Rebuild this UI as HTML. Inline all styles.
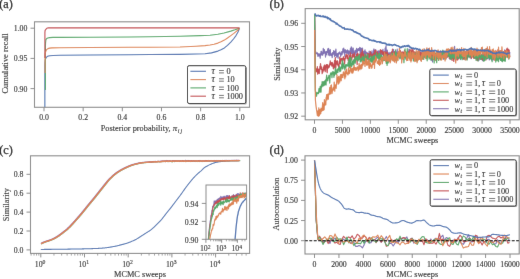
<!DOCTYPE html>
<html><head><meta charset="utf-8"><style>
html,body{margin:0;padding:0;background:#fff;width:520px;height:279px;overflow:hidden}
svg{display:block;font-family:"Liberation Serif",serif;will-change:transform}
text{stroke:#262626;stroke-width:0.12px}
.pl{font-size:12.2px;fill:#111;stroke:#111;stroke-width:0.25px}
</style></head><body>
<svg width="520" height="279" viewBox="0 0 520 279">
<defs><filter id="bl" x="0" y="0" width="520" height="279" filterUnits="userSpaceOnUse"><feConvolveMatrix order="3" kernelMatrix="0.00348 0.05206 0.00348 0.05206 0.77783 0.05206 0.00348 0.05206 0.00348" edgeMode="duplicate" preserveAlpha="false"/></filter></defs>
<g filter="url(#bl)">
<rect width="520" height="279" fill="#fff"/>
<g>
<text x="-0.8" y="8.4" class="pl">(a)</text>
<clipPath id="ca"><rect x="34.5" y="21.8" width="215.0" height="85.5"/></clipPath>
<g clip-path="url(#ca)">
<path d="M44.85,108.00 L44.85,66.00 L44.95,62.50 L45.20,60.20 L45.60,58.60 L46.30,57.40 L47.20,56.60 L48.40,56.00 L50.00,55.70 L53.00,55.45 L60.00,55.30 L90.00,55.00 L130.00,54.70 L150.00,54.50 L180.00,54.40 L196.00,54.00 L205.00,53.70 L211.50,52.90 L217.90,51.10 L221.00,49.80 L224.40,47.90 L227.50,45.40 L230.80,42.10 L233.50,39.00 L236.00,35.60 L238.00,32.00 L239.50,28.20" fill="none" stroke="#4C72B0" stroke-width="1.12" stroke-linejoin="round" stroke-linecap="butt" />
<path d="M45.45,90.00 L45.45,46.00 L45.55,43.00 L45.75,41.00 L45.90,39.60 L46.70,38.60 L47.80,38.00 L49.50,37.60 L53.00,37.40 L60.00,37.35 L90.00,37.20 L130.00,36.95 L150.00,36.80 L180.00,36.30 L200.00,35.60 L210.00,35.20 L217.90,34.30 L224.00,33.00 L230.80,31.10 L235.00,29.80 L239.50,28.20" fill="none" stroke="#55A868" stroke-width="1.12" stroke-linejoin="round" stroke-linecap="butt" />
<path d="M45.05,73.00 L45.05,56.00 L45.20,53.60 L45.60,51.90 L46.10,50.50 L46.90,49.40 L48.00,48.60 L49.60,48.10 L52.00,47.85 L60.00,47.70 L90.00,47.50 L130.00,47.30 L150.00,47.20 L180.00,47.05 L196.00,46.20 L205.00,45.60 L210.00,45.00 L214.00,44.20 L217.90,43.10 L221.00,41.80 L224.40,40.10 L227.50,38.00 L230.80,35.60 L233.50,33.60 L236.00,31.60 L238.00,30.00 L239.50,28.20" fill="none" stroke="#DD8452" stroke-width="1.12" stroke-linejoin="round" stroke-linecap="butt" />
<path d="M44.90,58.00 L44.90,32.50 L45.10,30.40 L45.90,29.30 L46.50,28.50 L47.40,28.05 L48.60,27.90 L239.50,27.90" fill="none" stroke="#C44E52" stroke-width="1.12" stroke-linejoin="round" stroke-linecap="butt" />
</g>
<rect x="34.5" y="21.8" width="215.00" height="85.50" fill="none" stroke="#8a8a8a" stroke-width="1.1"/>
<line x1="30.5" y1="28.20" x2="34.5" y2="28.20" stroke="#8a8a8a" stroke-width="1"/>
<text x="27.40" y="31.20" font-size="7.8" text-anchor="end" fill="#262626" >1.00</text>
<line x1="30.5" y1="58.40" x2="34.5" y2="58.40" stroke="#8a8a8a" stroke-width="1"/>
<text x="27.40" y="61.40" font-size="7.8" text-anchor="end" fill="#262626" >0.95</text>
<line x1="30.5" y1="88.60" x2="34.5" y2="88.60" stroke="#8a8a8a" stroke-width="1"/>
<text x="27.40" y="91.60" font-size="7.8" text-anchor="end" fill="#262626" >0.90</text>
<line x1="44.00" y1="107.3" x2="44.00" y2="111.3" stroke="#8a8a8a" stroke-width="1"/>
<text x="44.00" y="119.50" font-size="7.8" text-anchor="middle" fill="#262626" >0.0</text>
<line x1="83.16" y1="107.3" x2="83.16" y2="111.3" stroke="#8a8a8a" stroke-width="1"/>
<text x="83.16" y="119.50" font-size="7.8" text-anchor="middle" fill="#262626" >0.2</text>
<line x1="122.32" y1="107.3" x2="122.32" y2="111.3" stroke="#8a8a8a" stroke-width="1"/>
<text x="122.32" y="119.50" font-size="7.8" text-anchor="middle" fill="#262626" >0.4</text>
<line x1="161.48" y1="107.3" x2="161.48" y2="111.3" stroke="#8a8a8a" stroke-width="1"/>
<text x="161.48" y="119.50" font-size="7.8" text-anchor="middle" fill="#262626" >0.6</text>
<line x1="200.64" y1="107.3" x2="200.64" y2="111.3" stroke="#8a8a8a" stroke-width="1"/>
<text x="200.64" y="119.50" font-size="7.8" text-anchor="middle" fill="#262626" >0.8</text>
<line x1="239.80" y1="107.3" x2="239.80" y2="111.3" stroke="#8a8a8a" stroke-width="1"/>
<text x="239.80" y="119.50" font-size="7.8" text-anchor="middle" fill="#262626" >1.0</text>
<text x="141.9" y="131.1" font-size="8.3" text-anchor="middle" fill="#262626">Posterior probability, <tspan font-style="italic" font-size="8.8">π</tspan><tspan font-style="italic" font-size="6" dy="1.6" dx="0.6" letter-spacing="1">ij</tspan></text>
<text transform="translate(8.1,63.4) rotate(-90)" font-size="8.45" text-anchor="middle" fill="#262626">Cumulative recall</text>
<rect x="188.5" y="66.7" width="58.30000000000001" height="37.8" rx="1.6" fill="#777" opacity="0.65"/>
<rect x="187.5" y="65.7" width="58.30000000000001" height="37.8" rx="1.6" fill="#fff" stroke="#1a1a1a" stroke-width="1.0"/>
<line x1="190.4" y1="71.30" x2="206" y2="71.30" stroke="#4C72B0" stroke-width="1.1"/>
<text x="211.60" y="74.10" font-size="9.4" font-style="italic" fill="#262626">τ</text>
<path d="M219.00,70.50H223.90M219.00,72.90H223.90" stroke="#222" stroke-width="0.65" fill="none"/>
<text x="226.40" y="74.10" font-size="8.3" fill="#262626">0</text>
<line x1="190.4" y1="79.60" x2="206" y2="79.60" stroke="#DD8452" stroke-width="1.1"/>
<text x="211.60" y="82.40" font-size="9.4" font-style="italic" fill="#262626">τ</text>
<path d="M219.00,78.80H223.90M219.00,81.20H223.90" stroke="#222" stroke-width="0.65" fill="none"/>
<text x="226.40" y="82.40" font-size="8.3" fill="#262626">10</text>
<line x1="190.4" y1="87.90" x2="206" y2="87.90" stroke="#55A868" stroke-width="1.1"/>
<text x="211.60" y="90.70" font-size="9.4" font-style="italic" fill="#262626">τ</text>
<path d="M219.00,87.10H223.90M219.00,89.50H223.90" stroke="#222" stroke-width="0.65" fill="none"/>
<text x="226.40" y="90.70" font-size="8.3" fill="#262626">100</text>
<line x1="190.4" y1="96.20" x2="206" y2="96.20" stroke="#C44E52" stroke-width="1.1"/>
<text x="211.60" y="99.00" font-size="9.4" font-style="italic" fill="#262626">τ</text>
<path d="M219.00,95.40H223.90M219.00,97.80H223.90" stroke="#222" stroke-width="0.65" fill="none"/>
<text x="226.40" y="99.00" font-size="8.3" fill="#262626">1000</text>
</g>
<text x="269.6" y="8.2" class="pl">(b)</text>
<clipPath id="cb"><rect x="305.2" y="8.6" width="214.00000000000006" height="111.2"/></clipPath>
<g clip-path="url(#cb)">
<path d="M314.60,14.50 L315.30,50.00 L316.00,53.33 L316.28,53.66 L316.56,53.56 L316.84,52.94 L317.12,53.47 L317.40,52.88 L317.68,54.83 L317.96,56.46 L318.24,53.76 L318.52,53.86 L318.80,55.74 L319.08,55.84 L319.36,55.25 L319.64,53.88 L319.92,56.50 L320.20,58.26 L320.48,53.66 L320.76,54.58 L321.04,51.40 L321.32,52.57 L321.60,51.35 L321.88,55.21 L322.16,52.53 L322.44,55.20 L322.72,55.02 L323.00,53.83 L323.28,48.28 L323.56,52.53 L323.84,53.49 L324.12,52.84 L324.40,49.67 L324.68,52.23 L324.96,51.58 L325.24,52.83 L325.52,57.06 L325.80,51.89 L326.08,53.27 L326.36,54.86 L326.64,51.32 L326.92,52.50 L327.20,52.18 L327.48,52.34 L327.76,48.81 L328.04,52.06 L328.32,55.08 L328.60,48.37 L328.88,53.99 L329.16,52.16 L329.44,50.25 L329.72,55.71 L330.00,53.02 L330.28,49.48 L330.56,53.38 L330.84,55.14 L331.12,53.67 L331.40,55.34 L331.68,54.23 L331.96,55.84 L332.24,57.53 L332.52,52.49 L332.80,54.51 L333.08,52.75 L333.36,54.05 L333.64,50.53 L333.92,51.79 L334.20,53.70 L334.48,56.14 L334.76,56.57 L335.04,51.09 L335.32,52.58 L335.60,55.34 L335.88,49.15 L336.16,53.06 L336.44,53.98 L336.72,57.10 L337.00,56.43 L337.28,53.69 L337.56,53.57 L337.84,53.55 L338.12,58.24 L338.40,52.80 L338.68,52.77 L338.96,54.05 L339.24,53.27 L339.52,53.36 L339.80,51.84 L340.08,53.62 L340.36,52.94 L340.64,56.48 L340.92,54.98 L341.20,53.66 L341.48,54.83 L341.76,51.60 L342.04,54.71 L342.32,51.70 L342.60,52.88 L342.88,48.87 L343.16,52.88 L343.44,48.99 L343.72,48.14 L344.00,51.48 L344.28,49.86 L344.56,52.00 L344.84,56.37 L345.12,49.63 L345.40,49.95 L345.68,51.12 L345.96,52.27 L346.24,50.83 L346.52,51.06 L346.80,53.32 L347.08,53.29 L347.36,49.81 L347.64,52.62 L347.92,53.10 L348.20,50.78 L348.48,53.99 L348.76,50.76 L349.04,54.92 L349.32,53.05 L349.60,52.94 L349.88,50.81 L350.16,52.68 L350.44,48.42 L350.72,49.88 L351.00,52.61 L351.28,46.84 L351.56,53.74 L351.84,47.55 L352.12,53.45 L352.40,49.58 L352.68,53.66 L352.96,51.93 L353.24,48.18 L353.52,55.11 L353.80,56.74 L354.08,52.79 L354.36,52.11 L354.64,52.02 L354.92,50.53 L355.20,54.80 L355.48,50.86 L355.76,52.03 L356.04,49.95 L356.32,49.99 L356.60,48.38 L356.88,53.40 L357.16,49.68 L357.44,52.27 L357.72,50.34 L358.00,48.81 L358.28,49.05 L358.56,48.52 L358.84,50.39 L359.12,49.92 L359.40,50.20 L359.68,47.47 L359.96,49.21 L360.24,54.74 L360.52,49.00 L360.80,47.92 L361.08,51.93 L361.36,54.61 L361.64,48.63 L361.92,51.34 L362.20,50.85 L362.48,48.02 L362.76,53.74 L363.04,53.14 L363.32,53.67 L363.60,51.50 L363.88,54.20 L364.16,52.03 L364.44,53.44 L364.72,50.93 L365.00,49.86 L365.28,55.62 L365.56,51.40 L365.84,53.30 L366.12,53.13 L366.40,52.30 L366.68,52.47 L366.96,54.53 L367.24,52.75 L367.52,53.97 L367.80,54.59 L368.08,57.23 L368.36,56.03 L368.64,56.01 L368.92,53.25 L369.20,51.19 L369.48,56.64 L369.76,56.88 L370.04,54.00 L370.32,55.59 L370.60,55.90 L370.88,55.97 L371.16,56.02 L371.44,52.26 L371.72,56.74 L372.00,50.73 L372.28,55.09 L372.56,54.11 L372.84,55.25 L373.12,57.05 L373.40,56.21 L373.68,49.69 L373.96,48.96 L374.24,55.73 L374.52,52.32 L374.80,54.39 L375.08,56.55 L375.36,50.75 L375.64,49.59 L375.92,55.59 L376.20,54.35 L376.48,54.03 L376.76,54.53 L377.04,52.95 L377.32,51.37 L377.60,54.01 L377.88,52.16 L378.16,50.81 L378.44,55.63 L378.72,54.41 L379.00,55.12 L379.28,50.86 L379.56,51.98 L379.84,51.44 L380.12,51.68 L380.40,54.12 L380.68,52.25 L380.96,54.57 L381.24,54.14 L381.52,57.88 L381.80,50.50 L382.08,55.05 L382.36,53.30 L382.64,53.13 L382.92,49.30 L383.20,52.13 L383.48,54.81 L383.76,52.31 L384.04,52.53 L384.32,52.10 L384.60,55.94 L384.88,53.00 L385.16,48.14 L385.44,51.88 L385.72,48.61 L386.00,45.78 L386.28,51.99 L386.56,56.02 L386.84,52.83 L387.12,50.07 L387.40,50.63 L387.68,55.16 L387.96,52.76 L388.24,53.05 L388.52,52.93 L388.80,53.54 L389.08,55.82 L389.36,55.45 L389.64,55.62 L389.92,52.24 L390.20,56.08 L390.48,53.10 L390.76,57.93 L391.04,53.11 L391.32,54.69 L391.60,54.47 L391.88,51.68 L392.16,58.97 L392.44,58.61 L392.72,54.06 L393.00,57.02 L393.28,56.32 L393.56,49.30 L393.84,56.25 L394.12,54.43 L394.40,55.01 L394.68,51.85 L394.96,54.12 L395.24,54.20 L395.52,56.93 L395.80,55.14 L396.08,53.96 L396.36,57.11 L396.64,51.69 L396.92,52.16 L397.20,49.20 L397.48,57.52 L397.76,56.11 L398.04,56.51 L398.32,55.96 L398.60,54.64 L398.88,55.15 L399.16,54.54 L399.44,54.47 L399.72,54.93 L400.00,58.20 L400.28,56.03 L400.56,54.21 L400.84,53.49 L401.12,53.17 L401.40,58.53 L401.68,55.64 L401.96,54.81 L402.24,54.04 L402.52,52.10 L402.80,55.40 L403.08,57.68 L403.36,55.49 L403.64,56.19 L403.92,55.79 L404.20,56.29 L404.48,52.49 L404.76,55.56 L405.04,54.08 L405.32,57.88 L405.60,53.22 L405.88,56.23 L406.16,57.45 L406.44,53.47 L406.72,52.55 L407.00,54.15 L407.28,53.71 L407.56,51.65 L407.84,54.46 L408.12,57.39 L408.40,51.87 L408.68,51.29 L408.96,49.18 L409.24,53.28 L409.52,49.40 L409.80,50.23 L410.08,55.29 L410.36,50.61 L410.64,55.23 L410.92,56.41 L411.20,53.93 L411.48,55.53 L411.76,58.91 L412.04,54.10 L412.32,52.82 L412.60,51.42 L412.88,54.59 L413.16,58.33 L413.44,57.16 L413.72,53.59 L414.00,52.90 L414.28,53.62 L414.56,55.90 L414.84,54.62 L415.12,55.27 L415.40,55.40 L415.68,53.48 L415.96,54.22 L416.24,55.95 L416.52,55.80 L416.80,56.63 L417.08,59.39 L417.36,56.31 L417.64,55.56 L417.92,51.20 L418.20,55.70 L418.48,50.77 L418.76,52.41 L419.04,57.44 L419.32,56.61 L419.60,54.00 L419.88,50.18 L420.16,52.37 L420.44,52.16 L420.72,55.03 L421.00,59.11 L421.28,55.35 L421.56,53.62 L421.84,52.22 L422.12,55.21 L422.40,55.45 L422.68,52.85 L422.96,55.35 L423.24,52.42 L423.52,56.94 L423.80,57.56 L424.08,56.57 L424.36,52.60 L424.64,54.88 L424.92,53.42 L425.20,53.03 L425.48,53.37 L425.76,51.16 L426.04,51.43 L426.32,55.68 L426.60,53.53 L426.88,54.26 L427.16,56.25 L427.44,50.16 L427.72,52.04 L428.00,54.08 L428.28,55.05 L428.56,53.53 L428.84,56.55 L429.12,55.65 L429.40,53.42 L429.68,53.38 L429.96,57.50 L430.24,57.81 L430.52,52.64 L430.80,60.10 L431.08,58.18 L431.36,59.56 L431.64,55.43 L431.92,55.33 L432.20,53.71 L432.48,61.90 L432.76,55.43 L433.04,58.93 L433.32,53.79 L433.60,55.27 L433.88,51.01 L434.16,54.48 L434.44,57.80 L434.72,52.88 L435.00,58.36 L435.28,56.67 L435.56,53.41 L435.84,54.50 L436.12,54.92 L436.40,55.35 L436.68,54.82 L436.96,54.13 L437.24,54.97 L437.52,53.08 L437.80,52.18 L438.08,55.13 L438.36,56.97 L438.64,51.97 L438.92,55.15 L439.20,52.67 L439.48,51.69 L439.76,55.12 L440.04,52.11 L440.32,57.37 L440.60,52.53 L440.88,54.70 L441.16,53.07 L441.44,52.78 L441.72,56.07 L442.00,54.42 L442.28,56.68 L442.56,56.28 L442.84,54.40 L443.12,56.63 L443.40,57.05 L443.68,59.30 L443.96,54.63 L444.24,56.07 L444.52,52.18 L444.80,57.18 L445.08,53.15 L445.36,51.52 L445.64,56.56 L445.92,58.78 L446.20,52.62 L446.48,53.51 L446.76,54.46 L447.04,53.99 L447.32,57.16 L447.60,54.02 L447.88,53.46 L448.16,56.08 L448.44,53.29 L448.72,56.08 L449.00,52.43 L449.28,51.77 L449.56,50.42 L449.84,59.20 L450.12,53.96 L450.40,55.21 L450.68,53.83 L450.96,53.88 L451.24,54.47 L451.52,57.86 L451.80,51.08 L452.08,50.12 L452.36,51.34 L452.64,50.37 L452.92,55.27 L453.20,55.58 L453.48,51.57 L453.76,49.87 L454.04,52.36 L454.32,56.16 L454.60,46.41 L454.88,54.39 L455.16,51.15 L455.44,56.55 L455.72,51.55 L456.00,53.88 L456.28,51.66 L456.56,53.40 L456.84,59.44 L457.12,58.02 L457.40,55.09 L457.68,54.34 L457.96,51.33 L458.24,54.86 L458.52,55.44 L458.80,55.15 L459.08,54.37 L459.36,51.68 L459.64,54.18 L459.92,54.72 L460.20,58.26 L460.48,59.57 L460.76,54.89 L461.04,53.10 L461.32,54.93 L461.60,53.61 L461.88,53.60 L462.16,55.96 L462.44,53.64 L462.72,56.73 L463.00,54.73 L463.28,54.94 L463.56,53.49 L463.84,52.93 L464.12,52.58 L464.40,53.60 L464.68,53.27 L464.96,55.69 L465.24,55.01 L465.52,51.62 L465.80,54.81 L466.08,51.75 L466.36,53.75 L466.64,55.04 L466.92,51.46 L467.20,56.92 L467.48,57.57 L467.76,57.03 L468.04,55.61 L468.32,55.59 L468.60,54.28 L468.88,55.66 L469.16,55.36 L469.44,56.60 L469.72,53.15 L470.00,57.07 L470.28,57.08 L470.56,56.43 L470.84,56.07 L471.12,58.71 L471.40,53.62 L471.68,57.29 L471.96,56.44 L472.24,56.31 L472.52,56.09 L472.80,53.81 L473.08,55.26 L473.36,57.08 L473.64,56.10 L473.92,56.51 L474.20,52.31 L474.48,56.47 L474.76,58.04 L475.04,57.87 L475.32,55.78 L475.60,52.02 L475.88,57.55 L476.16,54.64 L476.44,49.27 L476.72,56.33 L477.00,51.76 L477.28,52.37 L477.56,53.86 L477.84,59.51 L478.12,55.34 L478.40,57.38 L478.68,60.67 L478.96,60.18 L479.24,56.52 L479.52,56.51 L479.80,54.61 L480.08,55.92 L480.36,58.09 L480.64,57.67 L480.92,57.15 L481.20,59.34 L481.48,55.79 L481.76,57.47 L482.04,59.61 L482.32,59.77 L482.60,60.75 L482.88,58.35 L483.16,56.07 L483.44,56.89 L483.72,54.42 L484.00,52.49 L484.28,58.09 L484.56,56.80 L484.84,58.29 L485.12,53.97 L485.40,56.83 L485.68,56.05 L485.96,55.34 L486.24,52.09 L486.52,56.15 L486.80,58.87 L487.08,58.30 L487.36,55.16 L487.64,56.55 L487.92,57.85 L488.20,49.80 L488.48,56.18 L488.76,57.63 L489.04,58.23 L489.32,59.79 L489.60,58.95 L489.88,56.73 L490.16,56.94 L490.44,58.09 L490.72,53.84 L491.00,54.69 L491.28,57.01 L491.56,60.15 L491.84,55.40 L492.12,55.75 L492.40,55.67 L492.68,58.96 L492.96,56.57 L493.24,59.95 L493.52,54.18 L493.80,55.19 L494.08,55.55 L494.36,58.97 L494.64,59.76 L494.92,54.31 L495.20,55.76 L495.48,58.04 L495.76,56.22 L496.04,53.53 L496.32,59.22 L496.60,58.00 L496.88,58.29 L497.16,56.13 L497.44,59.64 L497.72,56.26 L498.00,58.67 L498.28,54.04 L498.56,53.81 L498.84,55.65 L499.12,53.03 L499.40,56.04 L499.68,54.34 L499.96,51.15 L500.24,52.87 L500.52,52.17 L500.80,55.44 L501.08,52.92 L501.36,52.78 L501.64,56.40 L501.92,59.30 L502.20,58.74 L502.48,54.24 L502.76,55.45 L503.04,58.36 L503.32,54.09 L503.60,51.63 L503.88,54.40 L504.16,55.40 L504.44,51.93 L504.72,49.73 L505.00,50.59 L505.28,55.79 L505.56,52.32 L505.84,54.11 L506.12,55.26 L506.40,55.46 L506.68,53.23 L506.96,55.43 L507.24,52.07 L507.52,52.44 L507.80,50.95 L508.08,56.39 L508.36,54.54 L508.64,52.00 L508.92,54.17 L509.20,54.01 L509.48,56.62 L509.76,51.92" fill="none" stroke="#8172B3" stroke-width="1.2" stroke-linejoin="round" stroke-linecap="butt" />
<path d="M314.60,14.50 L315.40,68.00 L316.00,71.97 L316.28,70.40 L316.56,68.78 L316.84,71.59 L317.12,69.35 L317.40,66.65 L317.68,74.19 L317.96,71.21 L318.24,73.13 L318.52,69.00 L318.80,72.76 L319.08,72.68 L319.36,73.53 L319.64,70.08 L319.92,66.34 L320.20,68.47 L320.48,63.62 L320.76,65.50 L321.04,69.30 L321.32,66.64 L321.60,68.64 L321.88,69.29 L322.16,73.73 L322.44,72.51 L322.72,69.41 L323.00,71.92 L323.28,67.15 L323.56,67.96 L323.84,70.21 L324.12,65.62 L324.40,67.01 L324.68,64.97 L324.96,68.51 L325.24,71.75 L325.52,65.73 L325.80,67.71 L326.08,65.19 L326.36,64.77 L326.64,64.52 L326.92,70.96 L327.20,72.60 L327.48,68.20 L327.76,64.57 L328.04,68.05 L328.32,65.59 L328.60,67.87 L328.88,67.08 L329.16,67.19 L329.44,66.53 L329.72,63.73 L330.00,63.40 L330.28,60.80 L330.56,64.76 L330.84,62.12 L331.12,64.95 L331.40,62.83 L331.68,65.29 L331.96,66.25 L332.24,62.35 L332.52,63.11 L332.80,63.35 L333.08,66.62 L333.36,68.78 L333.64,67.14 L333.92,64.49 L334.20,68.02 L334.48,60.67 L334.76,67.23 L335.04,62.10 L335.32,57.58 L335.60,69.32 L335.88,66.92 L336.16,61.04 L336.44,63.89 L336.72,63.03 L337.00,64.24 L337.28,60.58 L337.56,62.57 L337.84,65.20 L338.12,65.17 L338.40,66.28 L338.68,64.04 L338.96,68.88 L339.24,61.47 L339.52,63.06 L339.80,57.06 L340.08,58.30 L340.36,63.83 L340.64,58.74 L340.92,61.39 L341.20,60.60 L341.48,58.37 L341.76,59.75 L342.04,58.96 L342.32,58.60 L342.60,60.90 L342.88,60.41 L343.16,57.57 L343.44,56.72 L343.72,58.82 L344.00,57.85 L344.28,60.08 L344.56,63.93 L344.84,60.62 L345.12,58.85 L345.40,58.34 L345.68,56.00 L345.96,55.27 L346.24,54.35 L346.52,56.15 L346.80,55.80 L347.08,58.59 L347.36,55.75 L347.64,56.33 L347.92,54.66 L348.20,60.95 L348.48,58.21 L348.76,60.84 L349.04,59.00 L349.32,60.15 L349.60,55.70 L349.88,57.38 L350.16,61.44 L350.44,52.75 L350.72,59.51 L351.00,60.29 L351.28,57.82 L351.56,58.74 L351.84,59.43 L352.12,54.85 L352.40,57.29 L352.68,54.01 L352.96,55.37 L353.24,54.65 L353.52,55.97 L353.80,56.82 L354.08,57.30 L354.36,52.99 L354.64,61.39 L354.92,59.50 L355.20,58.65 L355.48,56.36 L355.76,56.04 L356.04,58.20 L356.32,58.84 L356.60,54.23 L356.88,60.25 L357.16,64.59 L357.44,53.20 L357.72,59.44 L358.00,57.64 L358.28,56.88 L358.56,59.94 L358.84,53.80 L359.12,56.08 L359.40,59.09 L359.68,55.23 L359.96,54.40 L360.24,55.36 L360.52,54.91 L360.80,59.06 L361.08,52.81 L361.36,56.70 L361.64,52.27 L361.92,57.75 L362.20,56.02 L362.48,49.78 L362.76,55.65 L363.04,53.59 L363.32,54.61 L363.60,59.91 L363.88,54.18 L364.16,54.24 L364.44,60.33 L364.72,57.40 L365.00,61.32 L365.28,57.80 L365.56,55.34 L365.84,56.94 L366.12,59.52 L366.40,58.78 L366.68,56.35 L366.96,55.94 L367.24,54.80 L367.52,53.28 L367.80,59.88 L368.08,56.18 L368.36,53.69 L368.64,55.67 L368.92,58.16 L369.20,57.83 L369.48,56.02 L369.76,54.20 L370.04,55.35 L370.32,51.36 L370.60,52.08 L370.88,56.57 L371.16,53.74 L371.44,55.65 L371.72,58.12 L372.00,56.75 L372.28,55.12 L372.56,60.15 L372.84,56.61 L373.12,53.90 L373.40,56.31 L373.68,55.90 L373.96,53.19 L374.24,55.94 L374.52,54.57 L374.80,50.14 L375.08,54.21 L375.36,54.04 L375.64,53.49 L375.92,50.44 L376.20,53.87 L376.48,54.71 L376.76,54.53 L377.04,52.24 L377.32,56.85 L377.60,52.20 L377.88,54.89 L378.16,58.15 L378.44,53.91 L378.72,54.19 L379.00,57.54 L379.28,53.92 L379.56,53.79 L379.84,55.12 L380.12,57.17 L380.40,49.51 L380.68,52.52 L380.96,50.51 L381.24,50.50 L381.52,50.33 L381.80,50.65 L382.08,53.99 L382.36,51.41 L382.64,53.72 L382.92,54.39 L383.20,51.76 L383.48,53.64 L383.76,57.03 L384.04,53.64 L384.32,52.04 L384.60,53.47 L384.88,51.96 L385.16,54.70 L385.44,56.17 L385.72,52.18 L386.00,53.87 L386.28,57.37 L386.56,53.69 L386.84,55.00 L387.12,51.83 L387.40,53.08 L387.68,53.66 L387.96,59.74 L388.24,54.44 L388.52,54.60 L388.80,54.69 L389.08,55.34 L389.36,58.20 L389.64,57.17 L389.92,61.57 L390.20,57.11 L390.48,59.20 L390.76,55.84 L391.04,56.75 L391.32,52.17 L391.60,55.05 L391.88,54.63 L392.16,53.59 L392.44,49.10 L392.72,55.49 L393.00,53.06 L393.28,53.51 L393.56,55.20 L393.84,55.58 L394.12,56.69 L394.40,52.38 L394.68,51.60 L394.96,54.22 L395.24,53.90 L395.52,53.21 L395.80,53.08 L396.08,52.77 L396.36,54.65 L396.64,57.80 L396.92,53.27 L397.20,58.67 L397.48,56.88 L397.76,53.27 L398.04,56.87 L398.32,52.25 L398.60,51.91 L398.88,52.32 L399.16,54.39 L399.44,54.44 L399.72,54.01 L400.00,55.32 L400.28,50.39 L400.56,56.23 L400.84,52.18 L401.12,53.99 L401.40,54.38 L401.68,52.58 L401.96,51.86 L402.24,53.05 L402.52,55.17 L402.80,56.66 L403.08,56.39 L403.36,52.13 L403.64,53.02 L403.92,52.26 L404.20,55.74 L404.48,50.21 L404.76,57.01 L405.04,52.67 L405.32,51.83 L405.60,54.13 L405.88,55.31 L406.16,54.18 L406.44,55.80 L406.72,53.96 L407.00,56.37 L407.28,56.63 L407.56,53.28 L407.84,56.89 L408.12,54.31 L408.40,54.21 L408.68,51.74 L408.96,52.78 L409.24,55.40 L409.52,50.83 L409.80,55.30 L410.08,54.34 L410.36,54.50 L410.64,49.95 L410.92,54.64 L411.20,56.51 L411.48,53.41 L411.76,54.22 L412.04,48.65 L412.32,55.40 L412.60,53.01 L412.88,56.44 L413.16,49.88 L413.44,55.67 L413.72,53.65 L414.00,55.85 L414.28,51.90 L414.56,52.06 L414.84,58.63 L415.12,52.00 L415.40,53.22 L415.68,54.51 L415.96,52.89 L416.24,58.47 L416.52,60.09 L416.80,55.14 L417.08,53.13 L417.36,59.58 L417.64,59.41 L417.92,58.68 L418.20,59.45 L418.48,54.74 L418.76,55.87 L419.04,52.04 L419.32,51.64 L419.60,56.25 L419.88,52.54 L420.16,59.38 L420.44,53.61 L420.72,52.37 L421.00,56.13 L421.28,58.51 L421.56,56.25 L421.84,53.14 L422.12,56.18 L422.40,58.91 L422.68,54.74 L422.96,54.20 L423.24,58.65 L423.52,56.21 L423.80,53.02 L424.08,54.26 L424.36,53.04 L424.64,55.42 L424.92,54.35 L425.20,56.33 L425.48,55.65 L425.76,50.45 L426.04,55.20 L426.32,55.53 L426.60,54.27 L426.88,55.45 L427.16,51.95 L427.44,50.88 L427.72,55.74 L428.00,51.21 L428.28,48.78 L428.56,56.19 L428.84,52.54 L429.12,53.34 L429.40,51.37 L429.68,51.76 L429.96,52.21 L430.24,54.06 L430.52,55.96 L430.80,50.25 L431.08,57.63 L431.36,53.27 L431.64,53.84 L431.92,57.80 L432.20,56.52 L432.48,53.02 L432.76,59.75 L433.04,54.07 L433.32,56.58 L433.60,55.87 L433.88,58.53 L434.16,53.81 L434.44,58.10 L434.72,54.22 L435.00,57.74 L435.28,53.62 L435.56,54.33 L435.84,60.34 L436.12,56.16 L436.40,54.65 L436.68,59.61 L436.96,55.16 L437.24,52.30 L437.52,54.96 L437.80,50.85 L438.08,56.99 L438.36,56.35 L438.64,52.86 L438.92,52.53 L439.20,55.47 L439.48,55.27 L439.76,52.88 L440.04,56.90 L440.32,51.07 L440.60,54.44 L440.88,54.78 L441.16,54.79 L441.44,55.29 L441.72,52.67 L442.00,56.65 L442.28,54.58 L442.56,53.63 L442.84,51.27 L443.12,51.13 L443.40,54.52 L443.68,51.32 L443.96,53.81 L444.24,56.68 L444.52,56.44 L444.80,57.92 L445.08,53.95 L445.36,51.67 L445.64,56.66 L445.92,54.64 L446.20,57.05 L446.48,54.71 L446.76,57.45 L447.04,56.06 L447.32,55.86 L447.60,55.08 L447.88,55.21 L448.16,54.81 L448.44,54.47 L448.72,56.70 L449.00,53.59 L449.28,58.50 L449.56,54.79 L449.84,57.16 L450.12,54.54 L450.40,54.24 L450.68,59.15 L450.96,53.59 L451.24,51.33 L451.52,53.34 L451.80,54.90 L452.08,60.41 L452.36,56.60 L452.64,58.16 L452.92,53.79 L453.20,57.20 L453.48,57.95 L453.76,61.50 L454.04,55.69 L454.32,57.97 L454.60,57.73 L454.88,54.35 L455.16,56.39 L455.44,54.39 L455.72,50.08 L456.00,57.12 L456.28,57.27 L456.56,55.37 L456.84,53.93 L457.12,60.24 L457.40,57.72 L457.68,58.96 L457.96,59.58 L458.24,55.49 L458.52,58.60 L458.80,55.45 L459.08,55.94 L459.36,55.72 L459.64,55.47 L459.92,58.18 L460.20,55.67 L460.48,54.30 L460.76,53.53 L461.04,55.78 L461.32,52.25 L461.60,53.29 L461.88,54.62 L462.16,53.72 L462.44,54.20 L462.72,52.95 L463.00,59.05 L463.28,57.88 L463.56,55.57 L463.84,53.92 L464.12,59.58 L464.40,55.79 L464.68,54.99 L464.96,55.59 L465.24,55.77 L465.52,58.34 L465.80,55.40 L466.08,59.68 L466.36,52.87 L466.64,56.42 L466.92,52.02 L467.20,58.64 L467.48,53.74 L467.76,54.20 L468.04,56.67 L468.32,56.82 L468.60,51.42 L468.88,53.42 L469.16,51.18 L469.44,55.21 L469.72,54.12 L470.00,52.92 L470.28,52.33 L470.56,53.28 L470.84,53.43 L471.12,56.61 L471.40,58.45 L471.68,50.87 L471.96,54.63 L472.24,53.28 L472.52,56.56 L472.80,53.34 L473.08,55.46 L473.36,53.58 L473.64,58.29 L473.92,56.91 L474.20,56.72 L474.48,57.33 L474.76,55.18 L475.04,52.73 L475.32,58.22 L475.60,57.60 L475.88,56.53 L476.16,59.08 L476.44,59.17 L476.72,54.42 L477.00,55.28 L477.28,60.70 L477.56,60.41 L477.84,55.74 L478.12,54.76 L478.40,56.15 L478.68,55.76 L478.96,53.34 L479.24,57.87 L479.52,54.41 L479.80,54.34 L480.08,59.46 L480.36,56.02 L480.64,57.51 L480.92,58.21 L481.20,58.72 L481.48,55.40 L481.76,55.82 L482.04,54.00 L482.32,59.71 L482.60,57.48 L482.88,54.75 L483.16,57.47 L483.44,59.23 L483.72,58.10 L484.00,60.77 L484.28,59.13 L484.56,54.41 L484.84,54.91 L485.12,51.85 L485.40,55.28 L485.68,54.62 L485.96,59.90 L486.24,53.39 L486.52,48.66 L486.80,52.05 L487.08,54.39 L487.36,51.75 L487.64,52.51 L487.92,53.98 L488.20,54.97 L488.48,54.85 L488.76,53.68 L489.04,57.38 L489.32,53.76 L489.60,54.01 L489.88,51.13 L490.16,52.19 L490.44,55.88 L490.72,50.72 L491.00,54.09 L491.28,56.36 L491.56,53.39 L491.84,54.97 L492.12,51.66 L492.40,56.91 L492.68,56.70 L492.96,54.31 L493.24,50.64 L493.52,52.03 L493.80,57.58 L494.08,58.76 L494.36,55.76 L494.64,57.40 L494.92,52.56 L495.20,53.65 L495.48,54.44 L495.76,54.87 L496.04,50.97 L496.32,56.32 L496.60,57.30 L496.88,51.82 L497.16,51.63 L497.44,54.77 L497.72,53.23 L498.00,49.53 L498.28,56.64 L498.56,54.69 L498.84,52.52 L499.12,57.96 L499.40,53.78 L499.68,51.67 L499.96,53.24 L500.24,50.50 L500.52,51.97 L500.80,54.54 L501.08,52.20 L501.36,53.12 L501.64,58.25 L501.92,56.43 L502.20,56.06 L502.48,54.78 L502.76,54.25 L503.04,56.39 L503.32,53.02 L503.60,57.61 L503.88,51.50 L504.16,53.28 L504.44,50.86 L504.72,52.85 L505.00,53.96 L505.28,56.02 L505.56,50.88 L505.84,52.30 L506.12,51.52 L506.40,50.27 L506.68,48.94 L506.96,51.99 L507.24,48.12 L507.52,52.26 L507.80,52.47 L508.08,50.98 L508.36,49.88 L508.64,49.22 L508.92,57.71 L509.20,50.12 L509.48,57.41 L509.76,55.88" fill="none" stroke="#C44E52" stroke-width="1.2" stroke-linejoin="round" stroke-linecap="butt" />
<path d="M314.60,14.50 L315.30,90.00 L316.00,95.64 L316.28,92.46 L316.56,96.22 L316.84,93.77 L317.12,93.28 L317.40,92.92 L317.68,93.57 L317.96,92.65 L318.24,92.05 L318.52,93.74 L318.80,89.93 L319.08,88.26 L319.36,91.40 L319.64,91.27 L319.92,92.23 L320.20,86.31 L320.48,91.34 L320.76,89.32 L321.04,92.07 L321.32,84.95 L321.60,87.59 L321.88,85.84 L322.16,81.58 L322.44,82.92 L322.72,86.13 L323.00,82.47 L323.28,81.72 L323.56,85.57 L323.84,85.77 L324.12,85.23 L324.40,81.06 L324.68,82.33 L324.96,84.87 L325.24,80.88 L325.52,79.97 L325.80,83.37 L326.08,84.85 L326.36,78.24 L326.64,75.09 L326.92,78.23 L327.20,78.78 L327.48,80.35 L327.76,80.82 L328.04,78.80 L328.32,77.14 L328.60,77.96 L328.88,75.39 L329.16,77.61 L329.44,75.75 L329.72,83.07 L330.00,78.21 L330.28,74.62 L330.56,73.41 L330.84,74.43 L331.12,72.39 L331.40,74.33 L331.68,74.31 L331.96,77.76 L332.24,74.01 L332.52,72.97 L332.80,71.69 L333.08,71.41 L333.36,73.94 L333.64,73.95 L333.92,77.29 L334.20,72.26 L334.48,75.50 L334.76,72.75 L335.04,72.48 L335.32,67.96 L335.60,69.72 L335.88,73.78 L336.16,74.57 L336.44,71.71 L336.72,72.86 L337.00,69.62 L337.28,69.62 L337.56,69.08 L337.84,72.77 L338.12,70.68 L338.40,68.27 L338.68,67.85 L338.96,69.88 L339.24,69.13 L339.52,66.20 L339.80,71.67 L340.08,68.56 L340.36,67.88 L340.64,71.20 L340.92,69.62 L341.20,66.71 L341.48,68.15 L341.76,63.93 L342.04,64.31 L342.32,60.41 L342.60,68.92 L342.88,61.77 L343.16,68.26 L343.44,64.59 L343.72,63.99 L344.00,65.05 L344.28,65.78 L344.56,67.14 L344.84,69.84 L345.12,66.78 L345.40,68.14 L345.68,64.56 L345.96,67.31 L346.24,65.91 L346.52,64.63 L346.80,65.49 L347.08,65.59 L347.36,66.03 L347.64,65.97 L347.92,63.58 L348.20,62.47 L348.48,66.19 L348.76,59.47 L349.04,61.75 L349.32,67.69 L349.60,57.56 L349.88,61.52 L350.16,64.55 L350.44,59.60 L350.72,69.13 L351.00,57.30 L351.28,66.41 L351.56,66.34 L351.84,66.08 L352.12,63.23 L352.40,64.07 L352.68,60.74 L352.96,64.62 L353.24,60.16 L353.52,62.23 L353.80,64.98 L354.08,59.27 L354.36,61.07 L354.64,61.97 L354.92,58.22 L355.20,63.19 L355.48,60.96 L355.76,56.30 L356.04,59.63 L356.32,57.28 L356.60,57.59 L356.88,59.34 L357.16,57.05 L357.44,60.67 L357.72,56.51 L358.00,60.86 L358.28,57.43 L358.56,59.46 L358.84,55.62 L359.12,55.67 L359.40,54.71 L359.68,58.53 L359.96,59.54 L360.24,62.00 L360.52,61.07 L360.80,59.13 L361.08,58.59 L361.36,59.37 L361.64,57.95 L361.92,61.91 L362.20,60.64 L362.48,56.45 L362.76,56.97 L363.04,61.15 L363.32,59.10 L363.60,57.88 L363.88,61.37 L364.16,57.45 L364.44,57.94 L364.72,57.20 L365.00,54.19 L365.28,61.17 L365.56,56.75 L365.84,58.38 L366.12,58.16 L366.40,60.25 L366.68,58.77 L366.96,58.80 L367.24,54.91 L367.52,58.41 L367.80,54.57 L368.08,58.45 L368.36,58.91 L368.64,58.66 L368.92,63.08 L369.20,59.18 L369.48,59.98 L369.76,58.51 L370.04,58.64 L370.32,61.26 L370.60,61.10 L370.88,55.97 L371.16,62.06 L371.44,60.07 L371.72,61.71 L372.00,60.34 L372.28,56.96 L372.56,56.82 L372.84,62.89 L373.12,59.44 L373.40,55.93 L373.68,60.81 L373.96,59.78 L374.24,56.48 L374.52,55.13 L374.80,56.29 L375.08,60.31 L375.36,59.07 L375.64,58.37 L375.92,58.38 L376.20,59.18 L376.48,52.93 L376.76,58.19 L377.04,57.22 L377.32,55.96 L377.60,57.70 L377.88,58.03 L378.16,57.38 L378.44,53.78 L378.72,56.67 L379.00,62.65 L379.28,55.03 L379.56,53.54 L379.84,58.47 L380.12,59.40 L380.40,59.21 L380.68,55.13 L380.96,59.70 L381.24,55.63 L381.52,55.22 L381.80,56.02 L382.08,56.67 L382.36,59.09 L382.64,58.45 L382.92,57.45 L383.20,59.74 L383.48,58.14 L383.76,60.72 L384.04,55.63 L384.32,55.46 L384.60,60.32 L384.88,54.93 L385.16,57.65 L385.44,58.71 L385.72,58.29 L386.00,59.23 L386.28,63.38 L386.56,54.23 L386.84,62.31 L387.12,65.34 L387.40,59.87 L387.68,59.11 L387.96,61.11 L388.24,62.99 L388.52,56.15 L388.80,58.32 L389.08,58.09 L389.36,59.24 L389.64,58.61 L389.92,58.97 L390.20,56.24 L390.48,57.82 L390.76,55.75 L391.04,55.76 L391.32,56.72 L391.60,55.68 L391.88,53.50 L392.16,60.04 L392.44,55.65 L392.72,53.08 L393.00,58.48 L393.28,53.84 L393.56,56.81 L393.84,55.38 L394.12,57.09 L394.40,56.23 L394.68,54.90 L394.96,56.78 L395.24,60.49 L395.52,49.96 L395.80,55.61 L396.08,56.33 L396.36,53.16 L396.64,53.01 L396.92,60.99 L397.20,54.74 L397.48,59.24 L397.76,55.92 L398.04,54.58 L398.32,55.79 L398.60,56.38 L398.88,57.14 L399.16,56.33 L399.44,56.22 L399.72,56.70 L400.00,58.90 L400.28,57.53 L400.56,53.16 L400.84,53.89 L401.12,55.69 L401.40,53.79 L401.68,54.54 L401.96,53.43 L402.24,54.86 L402.52,57.06 L402.80,58.48 L403.08,55.01 L403.36,59.57 L403.64,54.70 L403.92,62.74 L404.20,57.63 L404.48,56.42 L404.76,53.91 L405.04,48.93 L405.32,54.93 L405.60,55.49 L405.88,59.25 L406.16,52.00 L406.44,59.39 L406.72,53.77 L407.00,56.41 L407.28,48.69 L407.56,55.12 L407.84,54.26 L408.12,57.23 L408.40,56.36 L408.68,53.26 L408.96,58.00 L409.24,56.87 L409.52,57.43 L409.80,58.57 L410.08,59.38 L410.36,56.60 L410.64,52.57 L410.92,53.20 L411.20,59.50 L411.48,58.06 L411.76,56.65 L412.04,55.66 L412.32,56.92 L412.60,56.13 L412.88,55.77 L413.16,54.65 L413.44,61.00 L413.72,57.30 L414.00,55.72 L414.28,53.88 L414.56,54.31 L414.84,57.70 L415.12,58.01 L415.40,55.69 L415.68,55.73 L415.96,54.58 L416.24,52.21 L416.52,57.92 L416.80,56.20 L417.08,61.52 L417.36,53.75 L417.64,55.29 L417.92,57.89 L418.20,55.06 L418.48,52.37 L418.76,54.33 L419.04,56.77 L419.32,57.66 L419.60,56.37 L419.88,58.85 L420.16,58.01 L420.44,56.45 L420.72,56.29 L421.00,56.53 L421.28,58.81 L421.56,59.82 L421.84,57.72 L422.12,58.22 L422.40,56.25 L422.68,53.93 L422.96,54.41 L423.24,58.81 L423.52,57.54 L423.80,59.32 L424.08,55.34 L424.36,56.49 L424.64,57.02 L424.92,56.87 L425.20,53.17 L425.48,54.31 L425.76,55.60 L426.04,53.61 L426.32,56.72 L426.60,58.57 L426.88,55.23 L427.16,60.82 L427.44,55.76 L427.72,55.28 L428.00,54.84 L428.28,53.72 L428.56,56.60 L428.84,55.52 L429.12,59.24 L429.40,57.26 L429.68,57.70 L429.96,56.23 L430.24,53.97 L430.52,56.72 L430.80,54.75 L431.08,58.95 L431.36,56.48 L431.64,60.09 L431.92,58.63 L432.20,58.68 L432.48,56.78 L432.76,56.90 L433.04,58.68 L433.32,59.22 L433.60,55.90 L433.88,58.34 L434.16,62.91 L434.44,56.28 L434.72,55.77 L435.00,55.52 L435.28,53.17 L435.56,59.89 L435.84,56.75 L436.12,57.12 L436.40,60.99 L436.68,62.71 L436.96,54.93 L437.24,58.57 L437.52,57.70 L437.80,56.69 L438.08,58.00 L438.36,56.66 L438.64,60.37 L438.92,57.55 L439.20,56.68 L439.48,58.17 L439.76,57.81 L440.04,56.69 L440.32,56.63 L440.60,59.59 L440.88,56.51 L441.16,55.72 L441.44,53.50 L441.72,53.90 L442.00,52.52 L442.28,54.72 L442.56,54.95 L442.84,50.13 L443.12,54.58 L443.40,56.50 L443.68,55.13 L443.96,53.27 L444.24,58.98 L444.52,54.22 L444.80,52.88 L445.08,52.85 L445.36,55.41 L445.64,58.22 L445.92,57.98 L446.20,56.21 L446.48,52.39 L446.76,53.27 L447.04,51.99 L447.32,54.68 L447.60,51.07 L447.88,55.55 L448.16,56.50 L448.44,55.18 L448.72,55.66 L449.00,52.53 L449.28,52.38 L449.56,54.08 L449.84,58.22 L450.12,58.23 L450.40,54.43 L450.68,58.27 L450.96,55.18 L451.24,59.47 L451.52,57.24 L451.80,54.90 L452.08,57.88 L452.36,54.26 L452.64,54.50 L452.92,53.56 L453.20,57.30 L453.48,55.42 L453.76,55.69 L454.04,55.24 L454.32,59.04 L454.60,53.87 L454.88,52.73 L455.16,57.75 L455.44,57.74 L455.72,55.12 L456.00,50.53 L456.28,53.76 L456.56,56.58 L456.84,55.19 L457.12,58.52 L457.40,52.56 L457.68,57.73 L457.96,54.65 L458.24,58.48 L458.52,54.93 L458.80,57.76 L459.08,53.60 L459.36,52.28 L459.64,53.13 L459.92,54.41 L460.20,53.72 L460.48,59.03 L460.76,58.92 L461.04,56.31 L461.32,54.33 L461.60,55.83 L461.88,54.28 L462.16,59.65 L462.44,56.91 L462.72,56.91 L463.00,54.27 L463.28,50.83 L463.56,54.14 L463.84,53.94 L464.12,57.32 L464.40,57.09 L464.68,54.48 L464.96,55.46 L465.24,59.60 L465.52,53.84 L465.80,54.24 L466.08,56.24 L466.36,54.64 L466.64,55.78 L466.92,57.69 L467.20,59.94 L467.48,51.76 L467.76,55.15 L468.04,55.32 L468.32,55.19 L468.60,54.88 L468.88,54.78 L469.16,57.74 L469.44,54.37 L469.72,54.52 L470.00,54.89 L470.28,54.81 L470.56,54.05 L470.84,56.78 L471.12,54.62 L471.40,54.38 L471.68,53.29 L471.96,51.12 L472.24,51.88 L472.52,51.66 L472.80,55.02 L473.08,53.58 L473.36,53.02 L473.64,56.01 L473.92,56.23 L474.20,50.59 L474.48,58.39 L474.76,54.77 L475.04,54.62 L475.32,57.37 L475.60,55.05 L475.88,53.83 L476.16,60.39 L476.44,53.02 L476.72,55.41 L477.00,57.34 L477.28,52.49 L477.56,54.98 L477.84,56.31 L478.12,60.86 L478.40,53.12 L478.68,56.10 L478.96,57.35 L479.24,55.91 L479.52,53.06 L479.80,56.24 L480.08,55.62 L480.36,57.21 L480.64,59.16 L480.92,59.10 L481.20,57.88 L481.48,57.62 L481.76,54.71 L482.04,56.74 L482.32,57.27 L482.60,55.80 L482.88,57.27 L483.16,55.19 L483.44,60.81 L483.72,61.22 L484.00,55.86 L484.28,58.62 L484.56,57.61 L484.84,60.73 L485.12,58.30 L485.40,57.48 L485.68,56.23 L485.96,57.28 L486.24,54.36 L486.52,58.56 L486.80,55.87 L487.08,57.71 L487.36,56.85 L487.64,58.69 L487.92,55.47 L488.20,57.60 L488.48,53.05 L488.76,57.06 L489.04,54.47 L489.32,55.94 L489.60,56.55 L489.88,58.75 L490.16,52.12 L490.44,57.42 L490.72,52.65 L491.00,59.06 L491.28,51.87 L491.56,54.37 L491.84,53.88 L492.12,61.67 L492.40,54.97 L492.68,58.72 L492.96,56.43 L493.24,52.88 L493.52,55.97 L493.80,57.91 L494.08,56.21 L494.36,58.58 L494.64,56.30 L494.92,57.71 L495.20,57.00 L495.48,58.35 L495.76,62.06 L496.04,58.74 L496.32,57.72 L496.60,55.89 L496.88,55.76 L497.16,60.83 L497.44,55.47 L497.72,56.29 L498.00,57.61 L498.28,56.75 L498.56,61.71 L498.84,51.91 L499.12,57.68 L499.40,58.81 L499.68,54.65 L499.96,56.06 L500.24,58.34 L500.52,60.33 L500.80,55.17 L501.08,53.46 L501.36,59.84 L501.64,61.15 L501.92,57.03 L502.20,53.36 L502.48,61.74 L502.76,58.37 L503.04,60.53 L503.32,58.07 L503.60,57.02 L503.88,56.62 L504.16,60.91 L504.44,60.84 L504.72,53.22 L505.00,54.99 L505.28,61.14 L505.56,55.79 L505.84,53.95 L506.12,56.80 L506.40,56.65 L506.68,56.41 L506.96,55.76 L507.24,56.51 L507.52,55.88 L507.80,57.63 L508.08,54.27 L508.36,55.57 L508.64,56.24 L508.92,59.26 L509.20,57.57 L509.48,55.46 L509.76,56.12" fill="none" stroke="#55A868" stroke-width="1.2" stroke-linejoin="round" stroke-linecap="butt" />
<path d="M314.60,30.00 L315.40,100.00 L316.00,106.00 L316.28,107.90 L316.56,109.80 L316.84,111.70 L317.12,113.60 L317.40,115.73 L317.68,112.61 L317.96,110.81 L318.24,110.74 L318.52,116.26 L318.80,107.88 L319.08,111.92 L319.36,115.61 L319.64,112.83 L319.92,109.67 L320.20,112.08 L320.48,113.88 L320.76,113.56 L321.04,108.06 L321.32,111.67 L321.60,109.40 L321.88,110.96 L322.16,110.68 L322.44,105.87 L322.72,102.54 L323.00,107.22 L323.28,110.33 L323.56,106.21 L323.84,104.16 L324.12,109.63 L324.40,99.61 L324.68,105.54 L324.96,100.75 L325.24,101.36 L325.52,101.36 L325.80,104.79 L326.08,97.58 L326.36,97.83 L326.64,94.58 L326.92,99.85 L327.20,97.06 L327.48,98.54 L327.76,94.14 L328.04,95.80 L328.32,99.21 L328.60,93.77 L328.88,94.90 L329.16,93.77 L329.44,90.89 L329.72,87.40 L330.00,94.22 L330.28,92.00 L330.56,93.70 L330.84,85.44 L331.12,86.94 L331.40,84.95 L331.68,88.11 L331.96,93.64 L332.24,92.16 L332.52,89.15 L332.80,89.46 L333.08,90.60 L333.36,87.42 L333.64,89.48 L333.92,88.67 L334.20,81.99 L334.48,86.82 L334.76,91.23 L335.04,86.20 L335.32,86.57 L335.60,85.02 L335.88,84.70 L336.16,88.28 L336.44,84.19 L336.72,81.29 L337.00,74.75 L337.28,81.80 L337.56,77.62 L337.84,77.63 L338.12,84.15 L338.40,83.61 L338.68,76.37 L338.96,83.43 L339.24,81.69 L339.52,78.62 L339.80,82.00 L340.08,76.03 L340.36,75.88 L340.64,74.51 L340.92,75.71 L341.20,80.68 L341.48,74.28 L341.76,74.77 L342.04,74.57 L342.32,77.49 L342.60,74.78 L342.88,77.64 L343.16,73.07 L343.44,71.75 L343.72,74.17 L344.00,75.03 L344.28,73.18 L344.56,75.91 L344.84,78.78 L345.12,71.14 L345.40,73.57 L345.68,76.91 L345.96,71.21 L346.24,70.24 L346.52,68.98 L346.80,73.59 L347.08,73.77 L347.36,72.84 L347.64,73.08 L347.92,74.98 L348.20,74.26 L348.48,67.95 L348.76,71.40 L349.04,72.39 L349.32,73.70 L349.60,71.63 L349.88,70.30 L350.16,70.20 L350.44,66.78 L350.72,70.91 L351.00,69.84 L351.28,72.92 L351.56,68.74 L351.84,70.36 L352.12,68.94 L352.40,68.28 L352.68,73.14 L352.96,69.65 L353.24,72.09 L353.52,67.19 L353.80,70.21 L354.08,65.45 L354.36,68.01 L354.64,67.52 L354.92,69.92 L355.20,69.06 L355.48,67.56 L355.76,70.30 L356.04,69.19 L356.32,70.07 L356.60,69.63 L356.88,67.33 L357.16,67.10 L357.44,68.40 L357.72,66.82 L358.00,69.05 L358.28,70.94 L358.56,69.91 L358.84,66.17 L359.12,63.46 L359.40,66.57 L359.68,66.48 L359.96,69.76 L360.24,65.48 L360.52,65.80 L360.80,68.32 L361.08,64.11 L361.36,64.44 L361.64,68.90 L361.92,68.14 L362.20,65.67 L362.48,64.54 L362.76,60.79 L363.04,65.15 L363.32,63.93 L363.60,63.47 L363.88,61.53 L364.16,62.29 L364.44,62.73 L364.72,63.78 L365.00,66.49 L365.28,63.70 L365.56,58.24 L365.84,60.01 L366.12,59.15 L366.40,61.27 L366.68,65.17 L366.96,65.21 L367.24,61.92 L367.52,64.94 L367.80,62.42 L368.08,60.96 L368.36,60.34 L368.64,62.03 L368.92,68.05 L369.20,60.29 L369.48,68.09 L369.76,68.35 L370.04,63.99 L370.32,64.20 L370.60,62.94 L370.88,64.82 L371.16,66.64 L371.44,65.26 L371.72,68.30 L372.00,67.82 L372.28,65.07 L372.56,64.30 L372.84,63.12 L373.12,64.74 L373.40,60.98 L373.68,64.21 L373.96,63.34 L374.24,60.87 L374.52,68.36 L374.80,59.89 L375.08,60.16 L375.36,62.10 L375.64,56.56 L375.92,59.64 L376.20,57.88 L376.48,58.72 L376.76,60.44 L377.04,61.27 L377.32,63.42 L377.60,62.62 L377.88,63.64 L378.16,62.92 L378.44,60.68 L378.72,64.33 L379.00,59.65 L379.28,60.09 L379.56,65.43 L379.84,64.04 L380.12,63.18 L380.40,64.09 L380.68,64.10 L380.96,58.05 L381.24,60.80 L381.52,57.31 L381.80,60.46 L382.08,58.73 L382.36,63.77 L382.64,61.37 L382.92,57.55 L383.20,58.91 L383.48,56.51 L383.76,58.57 L384.04,59.61 L384.32,59.19 L384.60,52.70 L384.88,57.29 L385.16,60.19 L385.44,59.20 L385.72,61.57 L386.00,54.55 L386.28,59.62 L386.56,56.58 L386.84,58.93 L387.12,60.17 L387.40,61.09 L387.68,58.36 L387.96,60.58 L388.24,56.26 L388.52,55.66 L388.80,61.01 L389.08,58.56 L389.36,55.04 L389.64,57.01 L389.92,59.40 L390.20,62.90 L390.48,61.51 L390.76,60.94 L391.04,53.86 L391.32,58.30 L391.60,58.67 L391.88,59.15 L392.16,58.60 L392.44,55.78 L392.72,60.62 L393.00,59.55 L393.28,55.80 L393.56,53.08 L393.84,61.35 L394.12,54.06 L394.40,59.92 L394.68,62.11 L394.96,55.56 L395.24,58.24 L395.52,56.86 L395.80,58.60 L396.08,58.36 L396.36,62.96 L396.64,58.50 L396.92,56.33 L397.20,58.77 L397.48,54.38 L397.76,53.88 L398.04,60.41 L398.32,51.74 L398.60,52.86 L398.88,54.72 L399.16,51.28 L399.44,48.39 L399.72,56.94 L400.00,52.12 L400.28,52.57 L400.56,53.60 L400.84,52.55 L401.12,52.73 L401.40,55.95 L401.68,62.93 L401.96,59.40 L402.24,59.14 L402.52,53.05 L402.80,57.52 L403.08,53.94 L403.36,59.25 L403.64,56.55 L403.92,56.82 L404.20,56.32 L404.48,54.18 L404.76,51.44 L405.04,56.02 L405.32,52.09 L405.60,53.39 L405.88,56.31 L406.16,55.29 L406.44,58.26 L406.72,60.76 L407.00,59.10 L407.28,59.23 L407.56,58.10 L407.84,60.36 L408.12,52.76 L408.40,57.87 L408.68,53.76 L408.96,53.13 L409.24,56.88 L409.52,55.05 L409.80,58.46 L410.08,60.47 L410.36,51.06 L410.64,56.65 L410.92,61.88 L411.20,59.39 L411.48,60.60 L411.76,56.38 L412.04,52.42 L412.32,52.12 L412.60,57.06 L412.88,58.30 L413.16,53.93 L413.44,55.50 L413.72,57.07 L414.00,52.02 L414.28,55.69 L414.56,60.36 L414.84,61.66 L415.12,55.49 L415.40,61.20 L415.68,55.69 L415.96,54.99 L416.24,50.67 L416.52,58.63 L416.80,54.92 L417.08,62.73 L417.36,57.46 L417.64,56.92 L417.92,51.14 L418.20,60.25 L418.48,55.35 L418.76,55.75 L419.04,50.28 L419.32,59.32 L419.60,59.24 L419.88,55.74 L420.16,58.02 L420.44,58.62 L420.72,60.36 L421.00,57.79 L421.28,61.44 L421.56,55.94 L421.84,54.37 L422.12,54.89 L422.40,49.30 L422.68,54.05 L422.96,59.15 L423.24,55.45 L423.52,52.72 L423.80,54.86 L424.08,48.71 L424.36,52.87 L424.64,55.11 L424.92,56.30 L425.20,51.53 L425.48,56.14 L425.76,58.66 L426.04,51.67 L426.32,55.18 L426.60,49.19 L426.88,47.93 L427.16,54.45 L427.44,54.67 L427.72,54.85 L428.00,51.86 L428.28,52.21 L428.56,55.02 L428.84,57.32 L429.12,52.25 L429.40,48.02 L429.68,56.15 L429.96,54.22 L430.24,53.85 L430.52,52.25 L430.80,57.88 L431.08,52.53 L431.36,54.06 L431.64,47.72 L431.92,51.20 L432.20,51.11 L432.48,53.96 L432.76,54.64 L433.04,51.99 L433.32,58.93 L433.60,51.02 L433.88,52.75 L434.16,54.65 L434.44,50.47 L434.72,55.59 L435.00,56.26 L435.28,54.34 L435.56,59.98 L435.84,55.17 L436.12,56.81 L436.40,52.81 L436.68,50.93 L436.96,54.04 L437.24,54.80 L437.52,54.65 L437.80,57.84 L438.08,49.73 L438.36,53.54 L438.64,51.40 L438.92,59.71 L439.20,54.47 L439.48,54.24 L439.76,52.55 L440.04,57.15 L440.32,53.99 L440.60,56.43 L440.88,51.18 L441.16,60.11 L441.44,57.33 L441.72,58.34 L442.00,59.56 L442.28,55.57 L442.56,56.41 L442.84,57.98 L443.12,57.47 L443.40,55.64 L443.68,56.15 L443.96,54.08 L444.24,57.40 L444.52,57.61 L444.80,55.57 L445.08,61.02 L445.36,51.10 L445.64,54.19 L445.92,59.09 L446.20,52.77 L446.48,49.06 L446.76,57.06 L447.04,54.71 L447.32,49.28 L447.60,54.31 L447.88,49.89 L448.16,48.50 L448.44,51.29 L448.72,51.35 L449.00,50.44 L449.28,51.57 L449.56,49.25 L449.84,52.38 L450.12,51.64 L450.40,53.67 L450.68,50.38 L450.96,48.47 L451.24,47.32 L451.52,49.23 L451.80,53.59 L452.08,52.55 L452.36,48.74 L452.64,52.28 L452.92,47.21 L453.20,53.55 L453.48,49.90 L453.76,52.96 L454.04,52.96 L454.32,51.33 L454.60,53.11 L454.88,49.76 L455.16,52.42 L455.44,55.35 L455.72,62.94 L456.00,54.15 L456.28,52.44 L456.56,49.48 L456.84,55.53 L457.12,48.61 L457.40,51.34 L457.68,53.61 L457.96,49.79 L458.24,56.79 L458.52,55.24 L458.80,50.46 L459.08,51.21 L459.36,49.64 L459.64,49.07 L459.92,53.42 L460.20,53.97 L460.48,53.08 L460.76,53.78 L461.04,50.86 L461.32,52.43 L461.60,47.56 L461.88,51.62 L462.16,55.69 L462.44,55.77 L462.72,52.15 L463.00,52.31 L463.28,56.58 L463.56,56.79 L463.84,48.28 L464.12,51.62 L464.40,53.27 L464.68,56.52 L464.96,51.07 L465.24,55.76 L465.52,53.37 L465.80,59.87 L466.08,54.35 L466.36,52.07 L466.64,50.71 L466.92,54.65 L467.20,54.18 L467.48,50.55 L467.76,53.96 L468.04,49.69 L468.32,50.67 L468.60,49.77 L468.88,49.88 L469.16,51.26 L469.44,50.83 L469.72,55.10 L470.00,54.83 L470.28,52.48 L470.56,50.22 L470.84,55.12 L471.12,47.41 L471.40,48.56 L471.68,56.36 L471.96,57.01 L472.24,57.12 L472.52,53.53 L472.80,51.14 L473.08,52.43 L473.36,54.87 L473.64,50.40 L473.92,51.55 L474.20,50.23 L474.48,51.02 L474.76,56.39 L475.04,55.07 L475.32,50.52 L475.60,51.01 L475.88,51.97 L476.16,55.51 L476.44,50.63 L476.72,52.80 L477.00,48.20 L477.28,50.42 L477.56,55.11 L477.84,56.10 L478.12,49.46 L478.40,50.79 L478.68,54.29 L478.96,51.75 L479.24,50.58 L479.52,52.52 L479.80,51.95 L480.08,54.71 L480.36,54.01 L480.64,49.83 L480.92,51.61 L481.20,51.10 L481.48,47.55 L481.76,48.30 L482.04,53.42 L482.32,47.21 L482.60,53.86 L482.88,52.38 L483.16,51.71 L483.44,52.70 L483.72,52.07 L484.00,53.97 L484.28,49.55 L484.56,50.33 L484.84,49.45 L485.12,55.67 L485.40,53.72 L485.68,48.80 L485.96,49.78 L486.24,48.96 L486.52,50.75 L486.80,51.73 L487.08,57.33 L487.36,46.89 L487.64,54.33 L487.92,53.59 L488.20,49.43 L488.48,50.50 L488.76,49.98 L489.04,50.78 L489.32,53.85 L489.60,46.66 L489.88,54.38 L490.16,49.58 L490.44,54.51 L490.72,51.87 L491.00,54.15 L491.28,52.33 L491.56,54.95 L491.84,52.29 L492.12,49.50 L492.40,54.05 L492.68,54.61 L492.96,58.93 L493.24,48.93 L493.52,53.15 L493.80,56.98 L494.08,51.33 L494.36,53.93 L494.64,60.16 L494.92,56.67 L495.20,50.29 L495.48,57.34 L495.76,55.75 L496.04,54.42 L496.32,53.56 L496.60,53.50 L496.88,51.39 L497.16,51.38 L497.44,54.73 L497.72,53.61 L498.00,57.45 L498.28,51.67 L498.56,47.18 L498.84,53.28 L499.12,55.09 L499.40,53.94 L499.68,53.04 L499.96,50.88 L500.24,56.86 L500.52,51.11 L500.80,56.32 L501.08,53.46 L501.36,50.47 L501.64,57.46 L501.92,46.85 L502.20,51.05 L502.48,54.38 L502.76,52.66 L503.04,55.67 L503.32,52.76 L503.60,51.75 L503.88,58.91 L504.16,52.35 L504.44,53.10 L504.72,51.01 L505.00,51.33 L505.28,55.16 L505.56,55.91 L505.84,55.11 L506.12,53.07 L506.40,57.06 L506.68,50.23 L506.96,52.98 L507.24,53.43 L507.52,51.90 L507.80,54.72 L508.08,52.45 L508.36,52.17 L508.64,58.71 L508.92,56.07 L509.20,57.63 L509.48,54.46 L509.76,57.19" fill="none" stroke="#DD8452" stroke-width="1.2" stroke-linejoin="round" stroke-linecap="butt" />
<line x1="314.6" y1="14.5" x2="314.6" y2="30" stroke="#55A868" stroke-width="0.9"/>
<path d="M314.70,13.38 L315.30,14.25 L315.90,15.56 L316.50,16.05 L317.10,15.64 L317.70,15.62 L318.30,15.33 L318.90,16.01 L319.50,16.27 L320.10,15.59 L320.70,16.41 L321.30,16.45 L321.90,16.51 L322.50,16.03 L323.10,16.68 L323.70,16.04 L324.30,17.15 L324.90,16.75 L325.50,16.46 L326.10,17.50 L326.70,17.59 L327.30,17.20 L327.90,18.57 L328.50,17.82 L329.10,18.65 L329.70,19.47 L330.30,18.81 L330.90,20.50 L331.50,20.63 L332.10,20.99 L332.70,20.95 L333.30,21.78 L333.90,21.62 L334.50,22.00 L335.10,22.57 L335.70,22.69 L336.30,24.07 L336.90,23.44 L337.50,24.04 L338.10,24.59 L338.70,25.09 L339.30,25.76 L339.90,26.16 L340.50,26.17 L341.10,26.53 L341.70,27.06 L342.30,27.71 L342.90,28.05 L343.50,27.92 L344.10,27.59 L344.70,29.27 L345.30,29.05 L345.90,29.02 L346.50,29.24 L347.10,29.05 L347.70,28.99 L348.30,29.34 L348.90,29.49 L349.50,29.46 L350.10,29.19 L350.70,29.59 L351.30,29.90 L351.90,29.78 L352.50,30.47 L353.10,30.25 L353.70,31.42 L354.30,31.96 L354.90,31.75 L355.50,31.75 L356.10,32.68 L356.70,32.43 L357.30,33.13 L357.90,33.12 L358.50,33.80 L359.10,33.77 L359.70,33.67 L360.30,34.74 L360.90,35.23 L361.50,36.14 L362.10,36.15 L362.70,36.37 L363.30,37.02 L363.90,37.33 L364.50,37.39 L365.10,37.70 L365.70,37.71 L366.30,38.04 L366.90,38.30 L367.50,38.35 L368.10,38.45 L368.70,38.85 L369.30,40.10 L369.90,39.72 L370.50,40.04 L371.10,40.16 L371.70,40.44 L372.30,40.70 L372.90,40.39 L373.50,40.25 L374.10,41.15 L374.70,40.56 L375.30,41.29 L375.90,41.32 L376.50,41.75 L377.10,42.05 L377.70,41.80 L378.30,41.69 L378.90,41.68 L379.50,42.02 L380.10,42.51 L380.70,41.90 L381.30,42.78 L381.90,42.87 L382.50,43.23 L383.10,43.01 L383.70,43.29 L384.30,43.12 L384.90,43.43 L385.50,43.20 L386.10,44.09 L386.70,44.82 L387.30,44.57 L387.90,44.82 L388.50,44.33 L389.10,45.15 L389.70,44.36 L390.30,44.89 L390.90,44.78 L391.50,44.69 L392.10,45.67 L392.70,45.24 L393.30,45.05 L393.90,44.90 L394.50,44.49 L395.10,44.68 L395.70,45.29 L396.30,45.30 L396.90,45.76 L397.50,45.76 L398.10,45.74 L398.70,46.29 L399.30,46.62 L399.90,47.06 L400.50,47.74 L401.10,46.85 L401.70,47.33 L402.30,46.35 L402.90,46.60 L403.50,46.62 L404.10,45.90 L404.70,45.92 L405.30,46.51 L405.90,46.37 L406.50,46.09 L407.10,45.59 L407.70,46.37 L408.30,45.42 L408.90,45.66 L409.50,47.03 L410.10,47.14 L410.70,47.27 L411.30,48.24 L411.90,48.04 L412.50,48.38 L413.10,48.39 L413.70,48.11 L414.30,48.90 L414.90,48.69 L415.50,48.35 L416.10,48.50 L416.70,49.18 L417.30,48.81 L417.90,49.16 L418.50,49.58 L419.10,49.60 L419.70,49.23 L420.30,50.20 L420.90,50.51 L421.50,50.69 L422.10,51.16 L422.70,50.75 L423.30,50.73 L423.90,50.85 L424.50,50.03 L425.10,50.60 L425.70,50.54 L426.30,50.14 L426.90,50.45 L427.50,50.05 L428.10,49.44 L428.70,50.43 L429.30,50.44 L429.90,50.75 L430.50,50.85 L431.10,51.26 L431.70,50.96 L432.30,50.51 L432.90,50.91 L433.50,50.98 L434.10,50.46 L434.70,50.56 L435.30,50.66 L435.90,50.67 L436.50,51.09 L437.10,51.41 L437.70,51.79 L438.30,51.63 L438.90,51.66 L439.50,51.74 L440.10,51.85 L440.70,51.29 L441.30,51.71 L441.90,51.62 L442.50,51.51 L443.10,51.43 L443.70,51.43 L444.30,51.53 L444.90,51.21 L445.50,51.84 L446.10,51.66 L446.70,51.72 L447.30,51.81 L447.90,51.88 L448.50,51.31 L449.10,51.37 L449.70,50.73 L450.30,50.40 L450.90,50.39 L451.50,51.49 L452.10,50.20 L452.70,50.88 L453.30,51.10 L453.90,50.30 L454.50,50.91 L455.10,50.86 L455.70,50.41 L456.30,50.83 L456.90,50.20 L457.50,49.71 L458.10,50.14 L458.70,49.79 L459.30,49.47 L459.90,49.47 L460.50,50.71 L461.10,49.73 L461.70,49.92 L462.30,49.71 L462.90,50.01 L463.50,49.89 L464.10,49.85 L464.70,49.58 L465.30,49.36 L465.90,49.45 L466.50,49.67 L467.10,50.15 L467.70,49.65 L468.30,49.81 L468.90,49.29 L469.50,49.04 L470.10,48.55 L470.70,48.96 L471.30,48.15 L471.90,48.74 L472.50,49.43 L473.10,49.14 L473.70,49.59 L474.30,49.23 L474.90,49.05 L475.50,49.53 L476.10,49.73 L476.70,50.44 L477.30,50.78 L477.90,49.90 L478.50,50.10 L479.10,50.25 L479.70,50.25 L480.30,50.00 L480.90,50.54 L481.50,50.66 L482.10,50.70 L482.70,50.17 L483.30,50.58 L483.90,50.04 L484.50,51.00 L485.10,50.35 L485.70,50.64 L486.30,50.60 L486.90,50.58 L487.50,50.45 L488.10,50.23 L488.70,51.48 L489.30,50.99 L489.90,51.24 L490.50,52.23 L491.10,51.82 L491.70,52.40 L492.30,52.56 L492.90,53.33 L493.50,53.22 L494.10,53.30 L494.70,53.24 L495.30,53.56 L495.90,53.81 L496.50,52.52 L497.10,53.04 L497.70,52.78 L498.30,52.66 L498.90,51.92 L499.50,52.90 L500.10,52.38 L500.70,52.63 L501.30,52.57 L501.90,52.20 L502.50,52.68 L503.10,52.31 L503.70,52.75 L504.30,53.09 L504.90,53.32 L505.50,53.47 L506.10,53.46 L506.70,54.24 L507.30,53.63 L507.90,53.03 L508.50,53.23 L509.10,53.20 L509.70,53.35" fill="none" stroke="#4C72B0" stroke-width="1.6" stroke-linejoin="round" stroke-linecap="butt" />
</g>
<rect x="305.2" y="8.6" width="214.00" height="111.20" fill="none" stroke="#8a8a8a" stroke-width="1.1"/>
<line x1="301.2" y1="23.30" x2="305.2" y2="23.30" stroke="#8a8a8a" stroke-width="1"/>
<text x="298.10" y="26.30" font-size="7.8" text-anchor="end" fill="#262626" >0.96</text>
<line x1="301.2" y1="46.52" x2="305.2" y2="46.52" stroke="#8a8a8a" stroke-width="1"/>
<text x="298.10" y="49.52" font-size="7.8" text-anchor="end" fill="#262626" >0.95</text>
<line x1="301.2" y1="69.74" x2="305.2" y2="69.74" stroke="#8a8a8a" stroke-width="1"/>
<text x="298.10" y="72.74" font-size="7.8" text-anchor="end" fill="#262626" >0.94</text>
<line x1="301.2" y1="92.96" x2="305.2" y2="92.96" stroke="#8a8a8a" stroke-width="1"/>
<text x="298.10" y="95.96" font-size="7.8" text-anchor="end" fill="#262626" >0.93</text>
<line x1="301.2" y1="116.18" x2="305.2" y2="116.18" stroke="#8a8a8a" stroke-width="1"/>
<text x="298.10" y="119.18" font-size="7.8" text-anchor="end" fill="#262626" >0.92</text>
<line x1="314.50" y1="119.8" x2="314.50" y2="123.8" stroke="#8a8a8a" stroke-width="1"/>
<text x="314.50" y="133.00" font-size="7.8" text-anchor="middle" fill="#262626" >0</text>
<line x1="342.43" y1="119.8" x2="342.43" y2="123.8" stroke="#8a8a8a" stroke-width="1"/>
<text x="342.43" y="133.00" font-size="7.8" text-anchor="middle" fill="#262626" >5000</text>
<line x1="370.36" y1="119.8" x2="370.36" y2="123.8" stroke="#8a8a8a" stroke-width="1"/>
<text x="370.36" y="133.00" font-size="7.8" text-anchor="middle" fill="#262626" >10000</text>
<line x1="398.29" y1="119.8" x2="398.29" y2="123.8" stroke="#8a8a8a" stroke-width="1"/>
<text x="398.29" y="133.00" font-size="7.8" text-anchor="middle" fill="#262626" >15000</text>
<line x1="426.22" y1="119.8" x2="426.22" y2="123.8" stroke="#8a8a8a" stroke-width="1"/>
<text x="426.22" y="133.00" font-size="7.8" text-anchor="middle" fill="#262626" >20000</text>
<line x1="454.15" y1="119.8" x2="454.15" y2="123.8" stroke="#8a8a8a" stroke-width="1"/>
<text x="454.15" y="133.00" font-size="7.8" text-anchor="middle" fill="#262626" >25000</text>
<line x1="482.08" y1="119.8" x2="482.08" y2="123.8" stroke="#8a8a8a" stroke-width="1"/>
<text x="482.08" y="133.00" font-size="7.8" text-anchor="middle" fill="#262626" >30000</text>
<line x1="510.01" y1="119.8" x2="510.01" y2="123.8" stroke="#8a8a8a" stroke-width="1"/>
<text x="510.01" y="133.00" font-size="7.8" text-anchor="middle" fill="#262626" >35000</text>
<text x="412.4" y="143.1" font-size="8.3" text-anchor="middle" fill="#262626">MCMC sweeps</text>
<text transform="translate(279.6,64.2) rotate(-90)" font-size="8.3" text-anchor="middle" fill="#262626">Similarity</text>
<rect x="430.8" y="70.0" width="86.30000000000001" height="46.599999999999994" rx="1.6" fill="#777" opacity="0.65"/>
<rect x="429.8" y="69.0" width="86.30000000000001" height="46.599999999999994" rx="1.6" fill="#fff" stroke="#1a1a1a" stroke-width="1.0"/>
<line x1="433.0" y1="75.10" x2="448.8" y2="75.10" stroke="#4C72B0" stroke-width="1.1"/>
<text x="454.60" y="77.90" font-size="8.3" font-style="italic" fill="#262626">w</text>
<text x="460.40" y="79.00" font-size="5.4" font-style="italic" fill="#262626">t</text>
<path d="M466.30,74.30H472.10M466.30,76.70H472.10" stroke="#222" stroke-width="0.65" fill="none"/>
<text x="474.00" y="77.90" font-size="8.3" fill="#262626">0</text>
<line x1="433.0" y1="83.50" x2="448.8" y2="83.50" stroke="#DD8452" stroke-width="1.1"/>
<text x="454.60" y="86.30" font-size="8.3" font-style="italic" fill="#262626">w</text>
<text x="460.40" y="87.40" font-size="5.4" font-style="italic" fill="#262626">t</text>
<path d="M466.30,82.70H472.10M466.30,85.10H472.10" stroke="#222" stroke-width="0.65" fill="none"/>
<text x="474.00" y="86.30" font-size="8.3" fill="#262626">1,</text>
<text x="481.80" y="86.30" font-size="9.4" font-style="italic" fill="#262626">τ</text>
<path d="M489.10,82.70H495.20M489.10,85.10H495.20" stroke="#222" stroke-width="0.65" fill="none"/>
<text x="496.80" y="86.30" font-size="8.3" fill="#262626">0</text>
<line x1="433.0" y1="91.90" x2="448.8" y2="91.90" stroke="#55A868" stroke-width="1.1"/>
<text x="454.60" y="94.70" font-size="8.3" font-style="italic" fill="#262626">w</text>
<text x="460.40" y="95.80" font-size="5.4" font-style="italic" fill="#262626">t</text>
<path d="M466.30,91.10H472.10M466.30,93.50H472.10" stroke="#222" stroke-width="0.65" fill="none"/>
<text x="474.00" y="94.70" font-size="8.3" fill="#262626">1,</text>
<text x="481.80" y="94.70" font-size="9.4" font-style="italic" fill="#262626">τ</text>
<path d="M489.10,91.10H495.20M489.10,93.50H495.20" stroke="#222" stroke-width="0.65" fill="none"/>
<text x="496.80" y="94.70" font-size="8.3" fill="#262626">10</text>
<line x1="433.0" y1="100.30" x2="448.8" y2="100.30" stroke="#C44E52" stroke-width="1.1"/>
<text x="454.60" y="103.10" font-size="8.3" font-style="italic" fill="#262626">w</text>
<text x="460.40" y="104.20" font-size="5.4" font-style="italic" fill="#262626">t</text>
<path d="M466.30,99.50H472.10M466.30,101.90H472.10" stroke="#222" stroke-width="0.65" fill="none"/>
<text x="474.00" y="103.10" font-size="8.3" fill="#262626">1,</text>
<text x="481.80" y="103.10" font-size="9.4" font-style="italic" fill="#262626">τ</text>
<path d="M489.10,99.50H495.20M489.10,101.90H495.20" stroke="#222" stroke-width="0.65" fill="none"/>
<text x="496.80" y="103.10" font-size="8.3" fill="#262626">100</text>
<line x1="433.0" y1="108.70" x2="448.8" y2="108.70" stroke="#8172B3" stroke-width="1.1"/>
<text x="454.60" y="111.50" font-size="8.3" font-style="italic" fill="#262626">w</text>
<text x="460.40" y="112.60" font-size="5.4" font-style="italic" fill="#262626">t</text>
<path d="M466.30,107.90H472.10M466.30,110.30H472.10" stroke="#222" stroke-width="0.65" fill="none"/>
<text x="474.00" y="111.50" font-size="8.3" fill="#262626">1,</text>
<text x="481.80" y="111.50" font-size="9.4" font-style="italic" fill="#262626">τ</text>
<path d="M489.10,107.90H495.20M489.10,110.30H495.20" stroke="#222" stroke-width="0.65" fill="none"/>
<text x="496.80" y="111.50" font-size="8.3" fill="#262626">1000</text>
<text x="-0.8" y="154.4" class="pl">(c)</text>
<clipPath id="cc"><rect x="30.5" y="155.8" width="219.1" height="97.6"/></clipPath>
<g clip-path="url(#cc)">
<path d="M40.80,249.40 L41.30,249.40 L41.80,249.40 L42.30,249.40 L42.80,249.40 L43.30,249.40 L43.80,249.40 L44.30,249.39 L44.80,249.39 L45.30,249.39 L45.80,249.39 L46.30,249.39 L46.80,249.38 L47.30,249.38 L47.80,249.38 L48.30,249.38 L48.80,249.37 L49.30,249.37 L49.80,249.37 L50.30,249.36 L50.80,249.36 L51.30,249.35 L51.80,249.35 L52.30,249.34 L52.80,249.34 L53.30,249.34 L53.80,249.33 L54.30,249.33 L54.80,249.32 L55.30,249.32 L55.80,249.31 L56.30,249.30 L56.80,249.30 L57.30,249.29 L57.80,249.29 L58.30,249.28 L58.80,249.27 L59.30,249.27 L59.80,249.26 L60.30,249.25 L60.80,249.25 L61.30,249.24 L61.80,249.23 L62.30,249.23 L62.80,249.22 L63.30,249.21 L63.80,249.21 L64.30,249.20 L64.80,249.19 L65.30,249.18 L65.80,249.18 L66.30,249.17 L66.80,249.16 L67.30,249.15 L67.80,249.14 L68.30,249.14 L68.80,249.13 L69.30,249.12 L69.80,249.11 L70.30,249.10 L70.80,249.10 L71.30,249.09 L71.80,249.08 L72.30,249.07 L72.80,249.06 L73.30,249.06 L73.80,249.05 L74.30,249.04 L74.80,249.03 L75.30,249.02 L75.80,249.01 L76.30,249.01 L76.80,249.00 L77.30,248.99 L77.80,248.98 L78.30,248.97 L78.80,248.96 L79.30,248.95 L79.80,248.94 L80.30,248.93 L80.80,248.92 L81.30,248.91 L81.80,248.90 L82.30,248.89 L82.80,248.88 L83.30,248.87 L83.80,248.86 L84.30,248.85 L84.80,248.84 L85.30,248.83 L85.80,248.82 L86.30,248.80 L86.80,248.79 L87.30,248.78 L87.80,248.76 L88.30,248.75 L88.80,248.74 L89.30,248.72 L89.80,248.71 L90.30,248.69 L90.80,248.68 L91.30,248.66 L91.80,248.64 L92.30,248.63 L92.80,248.61 L93.30,248.59 L93.80,248.57 L94.30,248.55 L94.80,248.53 L95.30,248.51 L95.80,248.49 L96.30,248.47 L96.80,248.45 L97.30,248.43 L97.80,248.41 L98.30,248.38 L98.80,248.36 L99.30,248.34 L99.80,248.31 L100.30,248.28 L100.80,248.25 L101.30,248.22 L101.80,248.18 L102.30,248.14 L102.80,248.10 L103.30,248.05 L103.80,248.00 L104.30,247.95 L104.80,247.90 L105.30,247.84 L105.80,247.78 L106.30,247.71 L106.80,247.65 L107.30,247.58 L107.80,247.51 L108.30,247.43 L108.80,247.36 L109.30,247.28 L109.80,247.20 L110.30,247.12 L110.80,247.04 L111.30,246.95 L111.80,246.87 L112.30,246.78 L112.80,246.69 L113.30,246.60 L113.80,246.51 L114.30,246.42 L114.80,246.33 L115.30,246.23 L115.80,246.14 L116.30,246.04 L116.80,245.93 L117.30,245.81 L117.80,245.68 L118.30,245.54 L118.80,245.41 L119.30,245.27 L119.80,245.13 L120.30,245.00 L120.80,244.87 L121.30,244.75 L121.80,244.63 L122.30,244.50 L122.80,244.38 L123.30,244.25 L123.80,244.12 L124.30,243.98 L124.80,243.84 L125.30,243.70 L125.80,243.54 L126.30,243.39 L126.80,243.23 L127.30,243.06 L127.80,242.89 L128.30,242.72 L128.80,242.54 L129.30,242.35 L129.80,242.16 L130.30,241.96 L130.80,241.76 L131.30,241.54 L131.80,241.33 L132.30,241.11 L132.80,240.88 L133.30,240.65 L133.80,240.42 L134.30,240.18 L134.80,239.94 L135.30,239.69 L135.80,239.43 L136.30,239.17 L136.80,238.89 L137.30,238.61 L137.80,238.32 L138.30,238.01 L138.80,237.69 L139.30,237.36 L139.80,237.03 L140.30,236.71 L140.80,236.38 L141.30,236.06 L141.80,235.74 L142.30,235.41 L142.80,235.09 L143.30,234.76 L143.80,234.44 L144.30,234.11 L144.80,233.79 L145.30,233.46 L145.80,233.14 L146.30,232.83 L146.80,232.52 L147.30,232.22 L147.80,231.91 L148.30,231.60 L148.80,231.28 L149.30,230.96 L149.80,230.62 L150.30,230.27 L150.80,229.90 L151.30,229.51 L151.80,229.10 L152.30,228.68 L152.80,228.23 L153.30,227.78 L153.80,227.31 L154.30,226.84 L154.80,226.36 L155.30,225.88 L155.80,225.39 L156.30,224.91 L156.80,224.42 L157.30,223.93 L157.80,223.43 L158.30,222.93 L158.80,222.42 L159.30,221.90 L159.80,221.38 L160.30,220.84 L160.80,220.29 L161.30,219.73 L161.80,219.15 L162.30,218.55 L162.80,217.92 L163.30,217.28 L163.80,216.63 L164.30,215.97 L164.80,215.31 L165.30,214.65 L165.80,213.99 L166.30,213.35 L166.80,212.73 L167.30,212.11 L167.80,211.49 L168.30,210.89 L168.80,210.28 L169.30,209.67 L169.80,209.05 L170.30,208.43 L170.80,207.80 L171.30,207.16 L171.80,206.51 L172.30,205.85 L172.80,205.19 L173.30,204.53 L173.80,203.86 L174.30,203.20 L174.80,202.53 L175.30,201.86 L175.80,201.20 L176.30,200.54 L176.80,199.88 L177.30,199.23 L177.80,198.58 L178.30,197.92 L178.80,197.27 L179.30,196.61 L179.80,195.94 L180.30,195.27 L180.80,194.59 L181.30,193.89 L181.80,193.19 L182.30,192.48 L182.80,191.76 L183.30,191.04 L183.80,190.33 L184.30,189.62 L184.80,188.92 L185.30,188.24 L185.80,187.56 L186.30,186.89 L186.80,186.22 L187.30,185.55 L187.80,184.89 L188.30,184.24 L188.80,183.59 L189.30,182.95 L189.80,182.32 L190.30,181.71 L190.80,181.10 L191.30,180.50 L191.80,179.91 L192.30,179.33 L192.80,178.75 L193.30,178.18 L193.80,177.62 L194.30,177.07 L194.80,176.53 L195.30,176.01 L195.80,175.50 L196.30,175.00 L196.80,174.53 L197.30,174.07 L197.80,173.62 L198.30,173.19 L198.80,172.76 L199.30,172.33 L199.80,171.91 L200.30,171.47 L200.80,171.04 L201.30,170.58 L201.80,170.11 L202.30,169.61 L202.80,169.09 L203.30,168.58 L203.80,168.12 L204.30,167.73 L204.80,167.38 L205.30,167.05 L205.80,166.74 L206.30,166.45 L206.80,166.18 L207.30,165.91 L207.80,165.66 L208.30,165.40 L208.80,165.15 L209.30,164.90 L209.80,164.65 L210.30,164.41 L210.80,164.17 L211.30,163.95 L211.80,163.74 L212.30,163.55 L212.80,163.37 L213.30,163.19 L213.80,163.03 L214.30,162.87 L214.80,162.73 L215.30,162.58 L215.80,162.45 L216.30,162.33 L216.80,162.22 L217.30,162.12 L217.80,162.02 L218.30,161.93 L218.80,161.84 L219.30,161.76 L219.80,161.69 L220.30,161.62 L220.80,161.55 L221.30,161.49 L221.80,161.43 L222.30,161.37 L222.80,161.32 L223.30,161.27 L223.80,161.23 L224.30,161.18 L224.80,161.14 L225.30,161.11 L225.80,161.07 L226.30,161.04 L226.80,161.01 L227.30,160.98 L227.80,160.95 L228.30,160.92 L228.80,160.90 L229.30,160.87 L229.80,160.85 L230.30,160.82 L230.80,160.80 L231.30,160.78 L231.80,160.76 L232.30,160.74 L232.80,160.73 L233.30,160.71 L233.80,160.70 L234.30,160.69 L234.80,160.68 L235.30,160.67 L235.80,160.65 L236.30,160.64 L236.80,160.63 L237.30,160.63 L237.80,160.62 L238.30,160.61 L238.80,160.61 L239.30,160.60 L239.80,160.60" fill="none" stroke="#4C72B0" stroke-width="1.05" stroke-linejoin="round" stroke-linecap="butt" />
<path d="M40.85,243.14 L41.25,242.94 L41.65,242.75 L42.05,242.56 L42.45,242.38 L42.85,242.20 L43.25,242.03 L43.65,241.87 L44.05,241.71 L44.45,241.57 L44.85,241.43 L45.25,241.30 L45.65,241.17 L46.05,241.05 L46.45,240.93 L46.85,240.81 L47.25,240.68 L47.65,240.56 L48.05,240.42 L48.45,240.29 L48.85,240.14 L49.25,239.99 L49.65,239.85 L50.05,239.69 L50.45,239.54 L50.85,239.38 L51.25,239.22 L51.65,239.05 L52.05,238.87 L52.45,238.69 L52.85,238.50 L53.25,238.30 L53.65,238.10 L54.05,237.88 L54.45,237.66 L54.85,237.43 L55.25,237.20 L55.65,236.95 L56.05,236.71 L56.45,236.46 L56.85,236.20 L57.25,235.94 L57.65,235.68 L58.05,235.42 L58.45,235.14 L58.85,234.86 L59.25,234.58 L59.65,234.28 L60.05,233.98 L60.45,233.68 L60.85,233.37 L61.25,233.06 L61.65,232.75 L62.05,232.44 L62.45,232.13 L62.85,231.82 L63.25,231.51 L63.65,231.20 L64.05,230.89 L64.45,230.58 L64.85,230.27 L65.25,229.95 L65.65,229.63 L66.05,229.29 L66.45,228.96 L66.85,228.61 L67.25,228.25 L67.65,227.88 L68.05,227.50 L68.45,227.11 L68.85,226.71 L69.25,226.30 L69.65,225.88 L70.05,225.46 L70.45,225.03 L70.85,224.60 L71.25,224.16 L71.65,223.72 L72.05,223.27 L72.45,222.83 L72.85,222.38 L73.25,221.94 L73.65,221.49 L74.05,221.05 L74.45,220.61 L74.85,220.16 L75.25,219.72 L75.65,219.27 L76.05,218.82 L76.45,218.37 L76.85,217.91 L77.25,217.45 L77.65,216.99 L78.05,216.53 L78.45,216.07 L78.85,215.60 L79.25,215.14 L79.65,214.67 L80.05,214.20 L80.45,213.72 L80.85,213.25 L81.25,212.77 L81.65,212.29 L82.05,211.81 L82.45,211.32 L82.85,210.83 L83.25,210.33 L83.65,209.84 L84.05,209.34 L84.45,208.84 L84.85,208.34 L85.25,207.84 L85.65,207.34 L86.05,206.85 L86.45,206.35 L86.85,205.85 L87.25,205.36 L87.65,204.87 L88.05,204.39 L88.45,203.90 L88.85,203.42 L89.25,202.94 L89.65,202.46 L90.05,201.98 L90.45,201.50 L90.85,201.02 L91.25,200.54 L91.65,200.07 L92.05,199.59 L92.45,199.11 L92.85,198.62 L93.25,198.14 L93.65,197.65 L94.05,197.17 L94.45,196.67 L94.85,196.18 L95.25,195.68 L95.65,195.18 L96.05,194.67 L96.45,194.17 L96.85,193.66 L97.25,193.15 L97.65,192.63 L98.05,192.12 L98.45,191.61 L98.85,191.09 L99.25,190.58 L99.65,190.07 L100.05,189.56 L100.45,189.05 L100.85,188.55 L101.25,188.05 L101.65,187.55 L102.05,187.05 L102.45,186.55 L102.85,186.05 L103.25,185.55 L103.65,185.04 L104.05,184.53 L104.45,184.03 L104.85,183.52 L105.25,183.02 L105.65,182.52 L106.05,182.03 L106.45,181.54 L106.85,181.06 L107.25,180.60 L107.65,180.14 L108.05,179.70 L108.45,179.27 L108.85,178.85 L109.25,178.44 L109.65,178.04 L110.05,177.65 L110.45,177.26 L110.85,176.88 L111.25,176.50 L111.65,176.13 L112.05,175.76 L112.45,175.40 L112.85,175.05 L113.25,174.71 L113.65,174.38 L114.05,174.05 L114.45,173.73 L114.85,173.42 L115.25,173.12 L115.65,172.82 L116.05,172.54 L116.45,172.26 L116.85,171.99 L117.25,171.72 L117.65,171.46 L118.05,171.21 L118.45,170.96 L118.85,170.72 L119.25,170.48 L119.65,170.24 L120.05,170.01 L120.45,169.79 L120.85,169.56 L121.25,169.34 L121.65,169.13 L122.05,168.91 L122.45,168.70 L122.85,168.49 L123.25,168.29 L123.65,168.09 L124.05,167.89 L124.45,167.70 L124.85,167.51 L125.25,167.33 L125.65,167.14 L126.05,166.96 L126.45,166.78 L126.85,166.61 L127.25,166.44 L127.65,166.26 L128.05,166.09 L128.45,165.92 L128.85,165.75 L129.25,165.58 L129.65,165.42 L130.05,165.26 L130.45,165.10 L130.85,164.96 L131.25,164.81 L131.65,164.68 L132.05,164.56 L132.45,164.44 L132.85,164.32 L133.25,164.22 L133.65,164.11 L134.05,164.01 L134.45,163.91 L134.85,163.81 L135.25,163.72 L135.65,163.62 L136.05,163.53 L136.45,163.43 L136.85,163.33 L137.25,163.24 L137.65,163.14 L138.05,163.05 L138.45,162.96 L138.85,162.87 L139.25,162.80 L139.65,162.73 L140.05,162.66 L140.45,162.61 L140.85,162.56 L141.25,162.51 L141.65,162.48 L142.05,162.41 L142.45,162.35 L142.85,162.31 L143.25,162.27 L143.65,162.26 L144.05,162.22 L144.45,162.21 L144.85,162.15 L145.25,162.12 L145.65,162.09 L146.05,162.04 L146.45,162.03 L146.85,162.03 L147.25,162.00 L147.65,161.89 L148.05,161.79 L148.45,161.82 L148.85,161.86 L149.25,161.63 L149.65,161.75 L150.05,161.79 L150.45,161.68 L150.85,161.61 L151.25,161.83 L151.65,161.78 L152.05,161.60 L152.45,161.74 L152.85,161.71 L153.25,161.44 L153.65,161.83 L154.05,161.41 L154.45,161.46 L154.85,161.34 L155.25,161.46 L155.65,161.26 L156.05,161.41 L156.45,161.53 L156.85,161.40 L157.25,161.31 L157.65,161.55 L158.05,161.18 L158.45,161.44 L158.85,161.22 L159.25,161.28 L159.65,161.24 L160.05,161.23 L160.45,161.18 L160.85,161.04 L161.25,161.06 L161.65,161.21 L162.05,161.10 L162.45,160.89 L162.85,160.95 L163.25,160.94 L163.65,161.04 L164.05,161.07 L164.45,161.04 L164.85,160.88 L165.25,161.00 L165.65,160.70 L166.05,160.36 L166.45,160.96 L166.85,160.60 L167.25,160.75 L167.65,160.69 L168.05,161.09 L168.45,160.68 L168.85,161.00 L169.25,160.83 L169.65,160.66 L170.05,160.58 L170.45,161.02 L170.85,161.00 L171.25,161.08 L171.65,161.31 L172.05,160.97 L172.45,160.96 L172.85,160.87 L173.25,160.92 L173.65,160.81 L174.05,160.69 L174.45,161.32 L174.85,160.47 L175.25,160.94 L175.65,160.97 L176.05,160.91 L176.45,160.66 L176.85,160.83 L177.25,160.76 L177.65,160.63 L178.05,160.85 L178.45,160.77 L178.85,160.73 L179.25,161.00 L179.65,160.62 L180.05,160.95 L180.45,160.71 L180.85,160.94 L181.25,160.86 L181.65,160.89 L182.05,160.62 L182.45,160.67 L182.85,160.65 L183.25,160.87 L183.65,161.00 L184.05,161.07 L184.45,160.72 L184.85,160.84 L185.25,160.48 L185.65,160.35 L186.05,160.64 L186.45,160.68 L186.85,160.50 L187.25,160.45 L187.65,160.92 L188.05,160.65 L188.45,160.48 L188.85,161.26 L189.25,160.84 L189.65,160.74 L190.05,160.93 L190.45,160.66 L190.85,161.09 L191.25,160.51 L191.65,160.56 L192.05,160.77 L192.45,160.65 L192.85,161.04 L193.25,160.51 L193.65,160.66 L194.05,160.82 L194.45,160.87 L194.85,160.94 L195.25,160.83 L195.65,161.13 L196.05,160.69 L196.45,160.79 L196.85,160.90 L197.25,160.71 L197.65,160.71 L198.05,160.68 L198.45,160.66 L198.85,160.58 L199.25,160.67 L199.65,160.52 L200.05,160.79 L200.45,160.51 L200.85,161.01 L201.25,160.96 L201.65,160.87 L202.05,160.69 L202.45,160.64 L202.85,160.87 L203.25,160.73 L203.65,160.77 L204.05,160.62 L204.45,160.82 L204.85,160.60 L205.25,160.70 L205.65,160.49 L206.05,160.61 L206.45,160.73 L206.85,160.63 L207.25,160.62 L207.65,160.75 L208.05,160.66 L208.45,160.78 L208.85,160.42 L209.25,160.70 L209.65,160.69 L210.05,160.50 L210.45,160.52 L210.85,160.71 L211.25,160.54 L211.65,160.57 L212.05,160.67 L212.45,160.59 L212.85,160.65 L213.25,160.54 L213.65,160.62 L214.05,160.67 L214.45,160.62 L214.85,160.44 L215.25,160.63 L215.65,160.58 L216.05,160.51 L216.45,160.66 L216.85,160.45 L217.25,160.68 L217.65,160.51 L218.05,160.65 L218.45,160.54 L218.85,160.45 L219.25,160.54 L219.65,160.55 L220.05,160.56 L220.45,160.59 L220.85,160.45 L221.25,160.54 L221.65,160.55 L222.05,160.48 L222.45,160.43 L222.85,160.42 L223.25,160.53 L223.65,160.53 L224.05,160.42 L224.45,160.38 L224.85,160.54 L225.25,160.35 L225.65,160.46 L226.05,160.39 L226.45,160.32 L226.85,160.44 L227.25,160.41 L227.65,160.51 L228.05,160.56 L228.45,160.40 L228.85,160.47 L229.25,160.47 L229.65,160.36 L230.05,160.33 L230.45,160.48 L230.85,160.35 L231.25,160.37 L231.65,160.34 L232.05,160.35 L232.45,160.31 L232.85,160.39 L233.25,160.42 L233.65,160.31 L234.05,160.23 L234.45,160.32 L234.85,160.21 L235.25,160.26 L235.65,160.38 L236.05,160.45 L236.45,160.31 L236.85,160.21 L237.25,160.33 L237.65,160.12 L238.05,160.22 L238.45,160.36 L238.85,160.30" fill="none" stroke="#8172B3" stroke-width="0.9" stroke-linejoin="round" stroke-linecap="butt" />
<path d="M41.55,244.05 L41.95,243.84 L42.35,243.64 L42.75,243.44 L43.15,243.25 L43.55,243.06 L43.95,242.88 L44.35,242.70 L44.75,242.53 L45.15,242.37 L45.55,242.21 L45.95,242.07 L46.35,241.93 L46.75,241.80 L47.15,241.67 L47.55,241.55 L47.95,241.43 L48.35,241.31 L48.75,241.18 L49.15,241.06 L49.55,240.92 L49.95,240.79 L50.35,240.64 L50.75,240.49 L51.15,240.35 L51.55,240.19 L51.95,240.04 L52.35,239.88 L52.75,239.72 L53.15,239.55 L53.55,239.37 L53.95,239.19 L54.35,239.00 L54.75,238.80 L55.15,238.60 L55.55,238.38 L55.95,238.16 L56.35,237.93 L56.75,237.70 L57.15,237.45 L57.55,237.21 L57.95,236.96 L58.35,236.70 L58.75,236.44 L59.15,236.18 L59.55,235.92 L59.95,235.64 L60.35,235.36 L60.75,235.08 L61.15,234.78 L61.55,234.48 L61.95,234.18 L62.35,233.87 L62.75,233.56 L63.15,233.25 L63.55,232.94 L63.95,232.63 L64.35,232.32 L64.75,232.01 L65.15,231.70 L65.55,231.39 L65.95,231.08 L66.35,230.77 L66.75,230.45 L67.15,230.13 L67.55,229.79 L67.95,229.46 L68.35,229.11 L68.75,228.75 L69.15,228.38 L69.55,228.00 L69.95,227.61 L70.35,227.21 L70.75,226.80 L71.15,226.38 L71.55,225.96 L71.95,225.53 L72.35,225.10 L72.75,224.66 L73.15,224.22 L73.55,223.77 L73.95,223.33 L74.35,222.88 L74.75,222.44 L75.15,221.99 L75.55,221.55 L75.95,221.11 L76.35,220.66 L76.75,220.22 L77.15,219.77 L77.55,219.32 L77.95,218.87 L78.35,218.41 L78.75,217.95 L79.15,217.49 L79.55,217.03 L79.95,216.57 L80.35,216.10 L80.75,215.64 L81.15,215.17 L81.55,214.70 L81.95,214.22 L82.35,213.75 L82.75,213.27 L83.15,212.79 L83.55,212.31 L83.95,211.82 L84.35,211.33 L84.75,210.83 L85.15,210.34 L85.55,209.84 L85.95,209.34 L86.35,208.84 L86.75,208.34 L87.15,207.84 L87.55,207.35 L87.95,206.85 L88.35,206.35 L88.75,205.86 L89.15,205.37 L89.55,204.89 L89.95,204.40 L90.35,203.92 L90.75,203.44 L91.15,202.96 L91.55,202.48 L91.95,202.00 L92.35,201.52 L92.75,201.04 L93.15,200.57 L93.55,200.09 L93.95,199.61 L94.35,199.12 L94.75,198.64 L95.15,198.15 L95.55,197.67 L95.95,197.17 L96.35,196.68 L96.75,196.18 L97.15,195.68 L97.55,195.17 L97.95,194.67 L98.35,194.16 L98.75,193.65 L99.15,193.13 L99.55,192.62 L99.95,192.11 L100.35,191.59 L100.75,191.08 L101.15,190.57 L101.55,190.06 L101.95,189.55 L102.35,189.05 L102.75,188.55 L103.15,188.05 L103.55,187.55 L103.95,187.05 L104.35,186.55 L104.75,186.05 L105.15,185.54 L105.55,185.03 L105.95,184.53 L106.35,184.02 L106.75,183.52 L107.15,183.02 L107.55,182.53 L107.95,182.04 L108.35,181.56 L108.75,181.10 L109.15,180.64 L109.55,180.20 L109.95,179.77 L110.35,179.35 L110.75,178.94 L111.15,178.54 L111.55,178.15 L111.95,177.76 L112.35,177.38 L112.75,177.00 L113.15,176.63 L113.55,176.26 L113.95,175.90 L114.35,175.55 L114.75,175.21 L115.15,174.88 L115.55,174.55 L115.95,174.23 L116.35,173.92 L116.75,173.62 L117.15,173.32 L117.55,173.04 L117.95,172.76 L118.35,172.49 L118.75,172.22 L119.15,171.96 L119.55,171.71 L119.95,171.46 L120.35,171.22 L120.75,170.98 L121.15,170.74 L121.55,170.51 L121.95,170.29 L122.35,170.06 L122.75,169.84 L123.15,169.63 L123.55,169.41 L123.95,169.20 L124.35,168.99 L124.75,168.79 L125.15,168.59 L125.55,168.39 L125.95,168.20 L126.35,168.01 L126.75,167.83 L127.15,167.64 L127.55,167.46 L127.95,167.28 L128.35,167.11 L128.75,166.94 L129.15,166.76 L129.55,166.59 L129.95,166.42 L130.35,166.25 L130.75,166.08 L131.15,165.92 L131.55,165.76 L131.95,165.60 L132.35,165.46 L132.75,165.31 L133.15,165.18 L133.55,165.06 L133.95,164.94 L134.35,164.82 L134.75,164.72 L135.15,164.61 L135.55,164.51 L135.95,164.41 L136.35,164.31 L136.75,164.22 L137.15,164.12 L137.55,164.03 L137.95,163.93 L138.35,163.83 L138.75,163.74 L139.15,163.64 L139.55,163.55 L139.95,163.46 L140.35,163.37 L140.75,163.30 L141.15,163.23 L141.55,163.16 L141.95,163.11 L142.35,163.06 L142.75,163.01 L143.15,162.96 L143.55,162.93 L143.95,162.88 L144.35,162.83 L144.75,162.75 L145.15,162.72 L145.55,162.72 L145.95,162.70 L146.35,162.61 L146.75,162.58 L147.15,162.60 L147.55,162.46 L147.95,162.42 L148.35,162.47 L148.75,162.47 L149.15,162.39 L149.55,162.25 L149.95,162.37 L150.35,162.24 L150.75,162.35 L151.15,162.27 L151.55,162.27 L151.95,162.28 L152.35,162.15 L152.75,162.24 L153.15,162.26 L153.55,162.16 L153.95,162.23 L154.35,162.01 L154.75,162.15 L155.15,162.05 L155.55,161.89 L155.95,161.97 L156.35,161.90 L156.75,161.87 L157.15,161.93 L157.55,162.03 L157.95,161.84 L158.35,161.87 L158.75,161.64 L159.15,161.83 L159.55,161.97 L159.95,161.90 L160.35,161.83 L160.75,161.66 L161.15,161.57 L161.55,161.69 L161.95,161.46 L162.35,161.45 L162.75,161.81 L163.15,161.46 L163.55,161.93 L163.95,161.33 L164.35,161.65 L164.75,161.34 L165.15,161.58 L165.55,161.32 L165.95,161.52 L166.35,161.47 L166.75,161.40 L167.15,161.58 L167.55,161.79 L167.95,161.33 L168.35,161.65 L168.75,161.47 L169.15,161.44 L169.55,161.92 L169.95,160.96 L170.35,161.28 L170.75,161.03 L171.15,161.35 L171.55,161.37 L171.95,162.24 L172.35,161.48 L172.75,161.80 L173.15,161.68 L173.55,161.30 L173.95,161.50 L174.35,161.75 L174.75,161.43 L175.15,161.43 L175.55,161.49 L175.95,161.05 L176.35,161.20 L176.75,161.45 L177.15,161.49 L177.55,161.17 L177.95,161.29 L178.35,161.34 L178.75,161.33 L179.15,161.51 L179.55,161.38 L179.95,161.39 L180.35,161.04 L180.75,161.12 L181.15,161.42 L181.55,161.00 L181.95,161.40 L182.35,161.20 L182.75,161.16 L183.15,161.48 L183.55,161.19 L183.95,161.15 L184.35,161.18 L184.75,161.34 L185.15,161.93 L185.55,160.86 L185.95,161.32 L186.35,161.27 L186.75,161.52 L187.15,161.24 L187.55,160.80 L187.95,161.59 L188.35,161.09 L188.75,161.30 L189.15,161.04 L189.55,161.09 L189.95,161.21 L190.35,161.47 L190.75,161.47 L191.15,161.19 L191.55,161.40 L191.95,161.23 L192.35,161.32 L192.75,161.32 L193.15,161.41 L193.55,161.18 L193.95,161.27 L194.35,161.33 L194.75,161.30 L195.15,161.15 L195.55,161.57 L195.95,161.20 L196.35,161.40 L196.75,161.31 L197.15,161.47 L197.55,160.92 L197.95,161.59 L198.35,161.23 L198.75,161.07 L199.15,161.28 L199.55,161.59 L199.95,161.33 L200.35,161.07 L200.75,161.18 L201.15,161.43 L201.55,161.04 L201.95,161.21 L202.35,161.19 L202.75,161.52 L203.15,161.19 L203.55,161.39 L203.95,161.13 L204.35,161.11 L204.75,161.34 L205.15,161.28 L205.55,161.00 L205.95,161.28 L206.35,161.27 L206.75,161.12 L207.15,161.21 L207.55,161.21 L207.95,161.13 L208.35,161.12 L208.75,161.10 L209.15,161.14 L209.55,161.03 L209.95,161.16 L210.35,161.01 L210.75,161.16 L211.15,161.14 L211.55,161.05 L211.95,161.21 L212.35,161.30 L212.75,161.24 L213.15,161.01 L213.55,161.22 L213.95,161.13 L214.35,161.11 L214.75,161.06 L215.15,161.10 L215.55,161.20 L215.95,161.13 L216.35,161.06 L216.75,161.04 L217.15,161.05 L217.55,161.11 L217.95,161.19 L218.35,161.00 L218.75,161.06 L219.15,161.03 L219.55,161.00 L219.95,161.07 L220.35,161.08 L220.75,160.94 L221.15,160.96 L221.55,161.10 L221.95,161.04 L222.35,161.05 L222.75,160.98 L223.15,160.98 L223.55,161.03 L223.95,160.96 L224.35,160.92 L224.75,160.98 L225.15,161.04 L225.55,160.90 L225.95,161.04 L226.35,161.01 L226.75,160.90 L227.15,160.95 L227.55,160.94 L227.95,160.98 L228.35,160.98 L228.75,160.84 L229.15,160.83 L229.55,160.98 L229.95,160.92 L230.35,160.93 L230.75,160.92 L231.15,160.99 L231.55,160.81 L231.95,160.95 L232.35,160.82 L232.75,160.92 L233.15,160.95 L233.55,160.77 L233.95,160.88 L234.35,160.83 L234.75,160.82 L235.15,160.84 L235.55,160.76 L235.95,160.76 L236.35,160.86 L236.75,160.86 L237.15,160.76 L237.55,160.70 L237.95,160.94 L238.35,160.85 L238.75,160.80 L239.15,160.70 L239.55,160.73 L239.95,160.77 L240.35,160.69" fill="none" stroke="#55A868" stroke-width="0.9" stroke-linejoin="round" stroke-linecap="butt" />
<path d="M41.10,243.59 L41.50,243.39 L41.90,243.19 L42.30,243.00 L42.70,242.81 L43.10,242.63 L43.50,242.45 L43.90,242.28 L44.30,242.12 L44.70,241.96 L45.10,241.82 L45.50,241.68 L45.90,241.55 L46.30,241.42 L46.70,241.30 L47.10,241.18 L47.50,241.06 L47.90,240.93 L48.30,240.81 L48.70,240.67 L49.10,240.54 L49.50,240.39 L49.90,240.24 L50.30,240.10 L50.70,239.94 L51.10,239.79 L51.50,239.63 L51.90,239.47 L52.30,239.30 L52.70,239.12 L53.10,238.94 L53.50,238.75 L53.90,238.55 L54.30,238.35 L54.70,238.13 L55.10,237.91 L55.50,237.68 L55.90,237.45 L56.30,237.20 L56.70,236.96 L57.10,236.71 L57.50,236.45 L57.90,236.19 L58.30,235.93 L58.70,235.67 L59.10,235.39 L59.50,235.11 L59.90,234.83 L60.30,234.53 L60.70,234.23 L61.10,233.93 L61.50,233.62 L61.90,233.31 L62.30,233.00 L62.70,232.69 L63.10,232.38 L63.50,232.07 L63.90,231.76 L64.30,231.45 L64.70,231.14 L65.10,230.83 L65.50,230.52 L65.90,230.20 L66.30,229.88 L66.70,229.54 L67.10,229.21 L67.50,228.86 L67.90,228.50 L68.30,228.13 L68.70,227.75 L69.10,227.36 L69.50,226.96 L69.90,226.55 L70.30,226.13 L70.70,225.71 L71.10,225.28 L71.50,224.85 L71.90,224.41 L72.30,223.97 L72.70,223.52 L73.10,223.08 L73.50,222.63 L73.90,222.19 L74.30,221.74 L74.70,221.30 L75.10,220.86 L75.50,220.41 L75.90,219.97 L76.30,219.52 L76.70,219.07 L77.10,218.62 L77.50,218.16 L77.90,217.70 L78.30,217.24 L78.70,216.78 L79.10,216.32 L79.50,215.85 L79.90,215.39 L80.30,214.92 L80.70,214.45 L81.10,213.97 L81.50,213.50 L81.90,213.02 L82.30,212.54 L82.70,212.06 L83.10,211.57 L83.50,211.08 L83.90,210.58 L84.30,210.09 L84.70,209.59 L85.10,209.09 L85.50,208.59 L85.90,208.09 L86.30,207.59 L86.70,207.10 L87.10,206.60 L87.50,206.10 L87.90,205.61 L88.30,205.12 L88.70,204.64 L89.10,204.15 L89.50,203.67 L89.90,203.19 L90.30,202.71 L90.70,202.23 L91.10,201.75 L91.50,201.27 L91.90,200.79 L92.30,200.32 L92.70,199.84 L93.10,199.36 L93.50,198.87 L93.90,198.39 L94.30,197.90 L94.70,197.42 L95.10,196.92 L95.50,196.43 L95.90,195.93 L96.30,195.43 L96.70,194.92 L97.10,194.42 L97.50,193.91 L97.90,193.40 L98.30,192.88 L98.70,192.37 L99.10,191.86 L99.50,191.34 L99.90,190.83 L100.30,190.32 L100.70,189.81 L101.10,189.30 L101.50,188.80 L101.90,188.30 L102.30,187.80 L102.70,187.30 L103.10,186.80 L103.50,186.30 L103.90,185.80 L104.30,185.29 L104.70,184.78 L105.10,184.28 L105.50,183.77 L105.90,183.27 L106.30,182.77 L106.70,182.28 L107.10,181.79 L107.50,181.31 L107.90,180.85 L108.30,180.39 L108.70,179.95 L109.10,179.52 L109.50,179.10 L109.90,178.69 L110.30,178.29 L110.70,177.90 L111.10,177.51 L111.50,177.13 L111.90,176.75 L112.30,176.38 L112.70,176.01 L113.10,175.65 L113.50,175.30 L113.90,174.96 L114.30,174.63 L114.70,174.30 L115.10,173.98 L115.50,173.67 L115.90,173.37 L116.30,173.07 L116.70,172.79 L117.10,172.51 L117.50,172.24 L117.90,171.97 L118.30,171.71 L118.70,171.46 L119.10,171.21 L119.50,170.97 L119.90,170.73 L120.30,170.49 L120.70,170.26 L121.10,170.04 L121.50,169.81 L121.90,169.59 L122.30,169.38 L122.70,169.16 L123.10,168.95 L123.50,168.74 L123.90,168.54 L124.30,168.34 L124.70,168.14 L125.10,167.95 L125.50,167.76 L125.90,167.58 L126.30,167.39 L126.70,167.21 L127.10,167.03 L127.50,166.86 L127.90,166.69 L128.30,166.51 L128.70,166.34 L129.10,166.17 L129.50,166.00 L129.90,165.83 L130.30,165.67 L130.70,165.51 L131.10,165.35 L131.50,165.21 L131.90,165.06 L132.30,164.93 L132.70,164.81 L133.10,164.69 L133.50,164.57 L133.90,164.47 L134.30,164.36 L134.70,164.26 L135.10,164.16 L135.50,164.06 L135.90,163.97 L136.30,163.87 L136.70,163.78 L137.10,163.68 L137.50,163.58 L137.90,163.49 L138.30,163.39 L138.70,163.30 L139.10,163.21 L139.50,163.12 L139.90,163.05 L140.30,162.98 L140.70,162.91 L141.10,162.86 L141.50,162.81 L141.90,162.76 L142.30,162.71 L142.70,162.64 L143.10,162.61 L143.50,162.59 L143.90,162.51 L144.30,162.49 L144.70,162.46 L145.10,162.46 L145.50,162.40 L145.90,162.37 L146.30,162.31 L146.70,162.29 L147.10,162.26 L147.50,162.27 L147.90,162.19 L148.30,162.23 L148.70,162.04 L149.10,162.19 L149.50,162.07 L149.90,162.14 L150.30,162.03 L150.70,162.07 L151.10,162.09 L151.50,161.90 L151.90,161.93 L152.30,161.88 L152.70,161.89 L153.10,161.68 L153.50,161.80 L153.90,161.77 L154.30,161.69 L154.70,161.73 L155.10,161.55 L155.50,161.87 L155.90,161.74 L156.30,161.90 L156.70,161.53 L157.10,161.47 L157.50,161.64 L157.90,161.36 L158.30,161.60 L158.70,161.44 L159.10,161.48 L159.50,161.55 L159.90,161.49 L160.30,161.76 L160.70,161.55 L161.10,161.22 L161.50,161.57 L161.90,161.16 L162.30,161.39 L162.70,161.13 L163.10,161.19 L163.50,161.56 L163.90,161.20 L164.30,161.16 L164.70,161.16 L165.10,161.20 L165.50,161.54 L165.90,160.99 L166.30,160.97 L166.70,161.34 L167.10,160.86 L167.50,161.12 L167.90,161.44 L168.30,161.19 L168.70,161.08 L169.10,161.02 L169.50,160.97 L169.90,161.04 L170.30,161.19 L170.70,161.43 L171.10,161.37 L171.50,161.03 L171.90,160.99 L172.30,161.30 L172.70,160.75 L173.10,161.04 L173.50,161.06 L173.90,160.89 L174.30,160.91 L174.70,161.20 L175.10,160.76 L175.50,160.92 L175.90,160.97 L176.30,161.13 L176.70,160.81 L177.10,161.34 L177.50,161.04 L177.90,161.04 L178.30,161.02 L178.70,160.95 L179.10,160.88 L179.50,161.34 L179.90,161.13 L180.30,161.06 L180.70,161.30 L181.10,160.93 L181.50,161.22 L181.90,161.08 L182.30,160.88 L182.70,161.24 L183.10,160.75 L183.50,161.21 L183.90,160.88 L184.30,161.16 L184.70,161.36 L185.10,161.19 L185.50,160.93 L185.90,161.05 L186.30,160.98 L186.70,160.81 L187.10,160.83 L187.50,161.06 L187.90,161.16 L188.30,160.70 L188.70,161.03 L189.10,161.15 L189.50,161.07 L189.90,160.85 L190.30,161.24 L190.70,160.81 L191.10,161.16 L191.50,161.33 L191.90,160.66 L192.30,161.08 L192.70,161.09 L193.10,161.07 L193.50,160.89 L193.90,160.97 L194.30,160.79 L194.70,161.04 L195.10,161.11 L195.50,160.91 L195.90,160.86 L196.30,160.94 L196.70,161.01 L197.10,161.02 L197.50,160.99 L197.90,161.01 L198.30,160.80 L198.70,160.59 L199.10,161.08 L199.50,161.19 L199.90,160.79 L200.30,160.89 L200.70,161.02 L201.10,161.11 L201.50,161.06 L201.90,161.14 L202.30,160.96 L202.70,161.02 L203.10,161.01 L203.50,160.90 L203.90,161.10 L204.30,161.02 L204.70,161.06 L205.10,160.90 L205.50,161.06 L205.90,160.82 L206.30,160.97 L206.70,160.64 L207.10,160.82 L207.50,161.00 L207.90,160.87 L208.30,160.93 L208.70,160.75 L209.10,161.05 L209.50,160.96 L209.90,160.89 L210.30,160.93 L210.70,160.92 L211.10,161.01 L211.50,160.90 L211.90,160.75 L212.30,160.85 L212.70,160.97 L213.10,160.91 L213.50,160.83 L213.90,160.90 L214.30,160.86 L214.70,160.89 L215.10,160.73 L215.50,160.78 L215.90,160.87 L216.30,160.81 L216.70,160.84 L217.10,160.94 L217.50,160.79 L217.90,160.82 L218.30,160.77 L218.70,160.76 L219.10,160.79 L219.50,160.69 L219.90,160.65 L220.30,160.86 L220.70,160.76 L221.10,160.84 L221.50,160.77 L221.90,160.76 L222.30,160.79 L222.70,160.79 L223.10,160.66 L223.50,160.81 L223.90,160.67 L224.30,160.74 L224.70,160.88 L225.10,160.72 L225.50,160.81 L225.90,160.68 L226.30,160.73 L226.70,160.69 L227.10,160.71 L227.50,160.62 L227.90,160.61 L228.30,160.69 L228.70,160.56 L229.10,160.60 L229.50,160.69 L229.90,160.60 L230.30,160.58 L230.70,160.56 L231.10,160.64 L231.50,160.60 L231.90,160.62 L232.30,160.60 L232.70,160.72 L233.10,160.57 L233.50,160.46 L233.90,160.59 L234.30,160.58 L234.70,160.58 L235.10,160.46 L235.50,160.63 L235.90,160.55 L236.30,160.54 L236.70,160.44 L237.10,160.57 L237.50,160.52 L237.90,160.61 L238.30,160.49 L238.70,160.43 L239.10,160.51 L239.50,160.44" fill="none" stroke="#C44E52" stroke-width="1.2" stroke-linejoin="round" stroke-linecap="butt" />
<path d="M41.00,243.85 L41.40,243.64 L41.80,243.44 L42.20,243.24 L42.60,243.05 L43.00,242.86 L43.40,242.68 L43.80,242.50 L44.20,242.33 L44.60,242.17 L45.00,242.01 L45.40,241.87 L45.80,241.73 L46.20,241.60 L46.60,241.47 L47.00,241.35 L47.40,241.23 L47.80,241.11 L48.20,240.98 L48.60,240.86 L49.00,240.72 L49.40,240.59 L49.80,240.44 L50.20,240.29 L50.60,240.15 L51.00,239.99 L51.40,239.84 L51.80,239.68 L52.20,239.52 L52.60,239.35 L53.00,239.17 L53.40,238.99 L53.80,238.80 L54.20,238.60 L54.60,238.40 L55.00,238.18 L55.40,237.96 L55.80,237.73 L56.20,237.50 L56.60,237.25 L57.00,237.01 L57.40,236.76 L57.80,236.50 L58.20,236.24 L58.60,235.98 L59.00,235.72 L59.40,235.44 L59.80,235.16 L60.20,234.88 L60.60,234.58 L61.00,234.28 L61.40,233.98 L61.80,233.67 L62.20,233.36 L62.60,233.05 L63.00,232.74 L63.40,232.43 L63.80,232.12 L64.20,231.81 L64.60,231.50 L65.00,231.19 L65.40,230.88 L65.80,230.57 L66.20,230.25 L66.60,229.93 L67.00,229.59 L67.40,229.26 L67.80,228.91 L68.20,228.55 L68.60,228.18 L69.00,227.80 L69.40,227.41 L69.80,227.01 L70.20,226.60 L70.60,226.18 L71.00,225.76 L71.40,225.33 L71.80,224.90 L72.20,224.46 L72.60,224.02 L73.00,223.57 L73.40,223.13 L73.80,222.68 L74.20,222.24 L74.60,221.79 L75.00,221.35 L75.40,220.91 L75.80,220.46 L76.20,220.02 L76.60,219.57 L77.00,219.12 L77.40,218.67 L77.80,218.21 L78.20,217.75 L78.60,217.29 L79.00,216.83 L79.40,216.37 L79.80,215.90 L80.20,215.44 L80.60,214.97 L81.00,214.50 L81.40,214.02 L81.80,213.55 L82.20,213.07 L82.60,212.59 L83.00,212.11 L83.40,211.62 L83.80,211.13 L84.20,210.63 L84.60,210.14 L85.00,209.64 L85.40,209.14 L85.80,208.64 L86.20,208.14 L86.60,207.64 L87.00,207.15 L87.40,206.65 L87.80,206.15 L88.20,205.66 L88.60,205.17 L89.00,204.69 L89.40,204.20 L89.80,203.72 L90.20,203.24 L90.60,202.76 L91.00,202.28 L91.40,201.80 L91.80,201.32 L92.20,200.84 L92.60,200.37 L93.00,199.89 L93.40,199.41 L93.80,198.92 L94.20,198.44 L94.60,197.95 L95.00,197.47 L95.40,196.97 L95.80,196.48 L96.20,195.98 L96.60,195.48 L97.00,194.97 L97.40,194.47 L97.80,193.96 L98.20,193.45 L98.60,192.93 L99.00,192.42 L99.40,191.91 L99.80,191.39 L100.20,190.88 L100.60,190.37 L101.00,189.86 L101.40,189.35 L101.80,188.85 L102.20,188.35 L102.60,187.85 L103.00,187.35 L103.40,186.85 L103.80,186.35 L104.20,185.85 L104.60,185.34 L105.00,184.83 L105.40,184.33 L105.80,183.82 L106.20,183.32 L106.60,182.82 L107.00,182.33 L107.40,181.84 L107.80,181.36 L108.20,180.90 L108.60,180.44 L109.00,180.00 L109.40,179.57 L109.80,179.15 L110.20,178.74 L110.60,178.34 L111.00,177.95 L111.40,177.56 L111.80,177.18 L112.20,176.80 L112.60,176.43 L113.00,176.06 L113.40,175.70 L113.80,175.35 L114.20,175.01 L114.60,174.68 L115.00,174.35 L115.40,174.03 L115.80,173.72 L116.20,173.42 L116.60,173.12 L117.00,172.84 L117.40,172.56 L117.80,172.29 L118.20,172.02 L118.60,171.76 L119.00,171.51 L119.40,171.26 L119.80,171.02 L120.20,170.78 L120.60,170.54 L121.00,170.31 L121.40,170.09 L121.80,169.86 L122.20,169.64 L122.60,169.43 L123.00,169.21 L123.40,169.00 L123.80,168.79 L124.20,168.59 L124.60,168.39 L125.00,168.19 L125.40,168.00 L125.80,167.81 L126.20,167.63 L126.60,167.44 L127.00,167.26 L127.40,167.08 L127.80,166.91 L128.20,166.74 L128.60,166.56 L129.00,166.39 L129.40,166.22 L129.80,166.05 L130.20,165.88 L130.60,165.72 L131.00,165.56 L131.40,165.40 L131.80,165.26 L132.20,165.11 L132.60,164.98 L133.00,164.86 L133.40,164.74 L133.80,164.62 L134.20,164.52 L134.60,164.41 L135.00,164.31 L135.40,164.21 L135.80,164.11 L136.20,164.02 L136.60,163.92 L137.00,163.83 L137.40,163.73 L137.80,163.63 L138.20,163.54 L138.60,163.44 L139.00,163.35 L139.40,163.26 L139.80,163.17 L140.20,163.10 L140.60,163.03 L141.00,162.96 L141.40,162.91 L141.80,162.86 L142.20,162.81 L142.60,162.75 L143.00,162.72 L143.40,162.65 L143.80,162.65 L144.20,162.59 L144.60,162.53 L145.00,162.46 L145.40,162.53 L145.80,162.49 L146.20,162.36 L146.60,162.44 L147.00,162.35 L147.40,162.30 L147.80,162.28 L148.20,162.24 L148.60,162.30 L149.00,162.20 L149.40,162.05 L149.80,162.27 L150.20,162.17 L150.60,162.00 L151.00,162.02 L151.40,161.95 L151.80,162.00 L152.20,162.01 L152.60,161.97 L153.00,161.87 L153.40,161.82 L153.80,161.96 L154.20,161.84 L154.60,162.06 L155.00,161.72 L155.40,161.87 L155.80,161.77 L156.20,161.65 L156.60,161.88 L157.00,161.71 L157.40,161.57 L157.80,161.62 L158.20,161.77 L158.60,161.46 L159.00,161.79 L159.40,161.68 L159.80,161.52 L160.20,161.74 L160.60,161.78 L161.00,161.59 L161.40,161.51 L161.80,161.76 L162.20,161.69 L162.60,161.27 L163.00,161.37 L163.40,161.36 L163.80,161.30 L164.20,161.09 L164.60,161.51 L165.00,161.34 L165.40,161.33 L165.80,161.57 L166.20,161.18 L166.60,161.27 L167.00,161.33 L167.40,161.17 L167.80,161.23 L168.20,161.41 L168.60,161.24 L169.00,161.52 L169.40,161.08 L169.80,161.27 L170.20,160.93 L170.60,161.20 L171.00,161.07 L171.40,161.50 L171.80,161.36 L172.20,161.31 L172.60,161.59 L173.00,161.50 L173.40,161.35 L173.80,161.05 L174.20,160.89 L174.60,161.18 L175.00,161.11 L175.40,161.05 L175.80,161.12 L176.20,160.83 L176.60,161.48 L177.00,160.93 L177.40,161.03 L177.80,161.28 L178.20,160.83 L178.60,161.35 L179.00,161.35 L179.40,161.09 L179.80,160.93 L180.20,161.05 L180.60,160.77 L181.00,161.44 L181.40,161.16 L181.80,160.99 L182.20,160.95 L182.60,161.26 L183.00,161.45 L183.40,160.87 L183.80,161.02 L184.20,160.77 L184.60,161.27 L185.00,161.16 L185.40,161.60 L185.80,161.10 L186.20,161.04 L186.60,160.98 L187.00,161.29 L187.40,160.80 L187.80,161.27 L188.20,161.17 L188.60,161.02 L189.00,160.94 L189.40,161.31 L189.80,161.46 L190.20,161.03 L190.60,161.20 L191.00,161.42 L191.40,160.99 L191.80,161.06 L192.20,160.89 L192.60,161.07 L193.00,161.08 L193.40,161.02 L193.80,160.97 L194.20,160.83 L194.60,160.87 L195.00,160.93 L195.40,161.19 L195.80,161.00 L196.20,160.95 L196.60,161.18 L197.00,161.16 L197.40,160.96 L197.80,160.97 L198.20,161.16 L198.60,161.12 L199.00,160.94 L199.40,161.09 L199.80,161.05 L200.20,161.20 L200.60,160.93 L201.00,161.16 L201.40,161.10 L201.80,160.91 L202.20,161.17 L202.60,161.14 L203.00,160.86 L203.40,161.26 L203.80,160.88 L204.20,160.91 L204.60,160.97 L205.00,161.10 L205.40,161.07 L205.80,160.99 L206.20,161.15 L206.60,161.04 L207.00,161.14 L207.40,161.28 L207.80,161.00 L208.20,160.72 L208.60,160.93 L209.00,160.86 L209.40,160.97 L209.80,160.97 L210.20,160.84 L210.60,160.85 L211.00,160.92 L211.40,160.93 L211.80,160.72 L212.20,161.01 L212.60,160.93 L213.00,160.92 L213.40,160.94 L213.80,160.84 L214.20,160.91 L214.60,160.98 L215.00,160.97 L215.40,160.93 L215.80,160.87 L216.20,160.83 L216.60,160.97 L217.00,160.91 L217.40,160.85 L217.80,160.73 L218.20,160.81 L218.60,160.73 L219.00,160.93 L219.40,160.86 L219.80,160.79 L220.20,160.82 L220.60,161.00 L221.00,160.91 L221.40,160.74 L221.80,160.81 L222.20,160.73 L222.60,160.70 L223.00,160.81 L223.40,160.95 L223.80,160.89 L224.20,160.79 L224.60,160.76 L225.00,160.79 L225.40,160.84 L225.80,160.67 L226.20,160.64 L226.60,160.87 L227.00,160.76 L227.40,160.84 L227.80,160.75 L228.20,160.83 L228.60,160.68 L229.00,160.75 L229.40,160.81 L229.80,160.77 L230.20,160.67 L230.60,160.75 L231.00,160.65 L231.40,160.59 L231.80,160.71 L232.20,160.76 L232.60,160.72 L233.00,160.58 L233.40,160.71 L233.80,160.69 L234.20,160.61 L234.60,160.47 L235.00,160.69 L235.40,160.68 L235.80,160.65 L236.20,160.50 L236.60,160.51 L237.00,160.66 L237.40,160.64 L237.80,160.62 L238.20,160.56 L238.60,160.60 L239.00,160.53 L239.40,160.54 L239.80,160.50" fill="none" stroke="#DD8452" stroke-width="1.2" stroke-linejoin="round" stroke-linecap="butt" />
</g>
<rect x="30.5" y="155.8" width="219.10" height="97.60" fill="none" stroke="#8a8a8a" stroke-width="1.1"/>
<line x1="26.5" y1="249.90" x2="30.5" y2="249.90" stroke="#8a8a8a" stroke-width="1"/>
<text x="23.40" y="252.90" font-size="7.8" text-anchor="end" fill="#262626" >0.0</text>
<line x1="26.5" y1="231.00" x2="30.5" y2="231.00" stroke="#8a8a8a" stroke-width="1"/>
<text x="23.40" y="234.00" font-size="7.8" text-anchor="end" fill="#262626" >0.2</text>
<line x1="26.5" y1="212.10" x2="30.5" y2="212.10" stroke="#8a8a8a" stroke-width="1"/>
<text x="23.40" y="215.10" font-size="7.8" text-anchor="end" fill="#262626" >0.4</text>
<line x1="26.5" y1="193.20" x2="30.5" y2="193.20" stroke="#8a8a8a" stroke-width="1"/>
<text x="23.40" y="196.20" font-size="7.8" text-anchor="end" fill="#262626" >0.6</text>
<line x1="26.5" y1="174.30" x2="30.5" y2="174.30" stroke="#8a8a8a" stroke-width="1"/>
<text x="23.40" y="177.30" font-size="7.8" text-anchor="end" fill="#262626" >0.8</text>
<line x1="40.80" y1="253.4" x2="40.80" y2="257.4" stroke="#8a8a8a" stroke-width="1"/>
<text x="40.10" y="266.7" font-size="7.8" text-anchor="middle" fill="#262626">10<tspan font-size="5.7" dy="-2.7">0</tspan></text>
<line x1="84.50" y1="253.4" x2="84.50" y2="257.4" stroke="#8a8a8a" stroke-width="1"/>
<text x="83.80" y="266.7" font-size="7.8" text-anchor="middle" fill="#262626">10<tspan font-size="5.7" dy="-2.7">1</tspan></text>
<line x1="128.20" y1="253.4" x2="128.20" y2="257.4" stroke="#8a8a8a" stroke-width="1"/>
<text x="127.50" y="266.7" font-size="7.8" text-anchor="middle" fill="#262626">10<tspan font-size="5.7" dy="-2.7">2</tspan></text>
<line x1="171.90" y1="253.4" x2="171.90" y2="257.4" stroke="#8a8a8a" stroke-width="1"/>
<text x="171.20" y="266.7" font-size="7.8" text-anchor="middle" fill="#262626">10<tspan font-size="5.7" dy="-2.7">3</tspan></text>
<line x1="215.60" y1="253.4" x2="215.60" y2="257.4" stroke="#8a8a8a" stroke-width="1"/>
<text x="214.90" y="266.7" font-size="7.8" text-anchor="middle" fill="#262626">10<tspan font-size="5.7" dy="-2.7">4</tspan></text>
<line x1="31.11" y1="253.4" x2="31.11" y2="255.6" stroke="#8a8a8a" stroke-width="0.8"/>
<line x1="34.03" y1="253.4" x2="34.03" y2="255.6" stroke="#8a8a8a" stroke-width="0.8"/>
<line x1="36.57" y1="253.4" x2="36.57" y2="255.6" stroke="#8a8a8a" stroke-width="0.8"/>
<line x1="38.80" y1="253.4" x2="38.80" y2="255.6" stroke="#8a8a8a" stroke-width="0.8"/>
<line x1="53.96" y1="253.4" x2="53.96" y2="255.6" stroke="#8a8a8a" stroke-width="0.8"/>
<line x1="61.65" y1="253.4" x2="61.65" y2="255.6" stroke="#8a8a8a" stroke-width="0.8"/>
<line x1="67.11" y1="253.4" x2="67.11" y2="255.6" stroke="#8a8a8a" stroke-width="0.8"/>
<line x1="71.34" y1="253.4" x2="71.34" y2="255.6" stroke="#8a8a8a" stroke-width="0.8"/>
<line x1="74.81" y1="253.4" x2="74.81" y2="255.6" stroke="#8a8a8a" stroke-width="0.8"/>
<line x1="77.73" y1="253.4" x2="77.73" y2="255.6" stroke="#8a8a8a" stroke-width="0.8"/>
<line x1="80.27" y1="253.4" x2="80.27" y2="255.6" stroke="#8a8a8a" stroke-width="0.8"/>
<line x1="82.50" y1="253.4" x2="82.50" y2="255.6" stroke="#8a8a8a" stroke-width="0.8"/>
<line x1="97.66" y1="253.4" x2="97.66" y2="255.6" stroke="#8a8a8a" stroke-width="0.8"/>
<line x1="105.35" y1="253.4" x2="105.35" y2="255.6" stroke="#8a8a8a" stroke-width="0.8"/>
<line x1="110.81" y1="253.4" x2="110.81" y2="255.6" stroke="#8a8a8a" stroke-width="0.8"/>
<line x1="115.04" y1="253.4" x2="115.04" y2="255.6" stroke="#8a8a8a" stroke-width="0.8"/>
<line x1="118.51" y1="253.4" x2="118.51" y2="255.6" stroke="#8a8a8a" stroke-width="0.8"/>
<line x1="121.43" y1="253.4" x2="121.43" y2="255.6" stroke="#8a8a8a" stroke-width="0.8"/>
<line x1="123.97" y1="253.4" x2="123.97" y2="255.6" stroke="#8a8a8a" stroke-width="0.8"/>
<line x1="126.20" y1="253.4" x2="126.20" y2="255.6" stroke="#8a8a8a" stroke-width="0.8"/>
<line x1="141.36" y1="253.4" x2="141.36" y2="255.6" stroke="#8a8a8a" stroke-width="0.8"/>
<line x1="149.05" y1="253.4" x2="149.05" y2="255.6" stroke="#8a8a8a" stroke-width="0.8"/>
<line x1="154.51" y1="253.4" x2="154.51" y2="255.6" stroke="#8a8a8a" stroke-width="0.8"/>
<line x1="158.74" y1="253.4" x2="158.74" y2="255.6" stroke="#8a8a8a" stroke-width="0.8"/>
<line x1="162.21" y1="253.4" x2="162.21" y2="255.6" stroke="#8a8a8a" stroke-width="0.8"/>
<line x1="165.13" y1="253.4" x2="165.13" y2="255.6" stroke="#8a8a8a" stroke-width="0.8"/>
<line x1="167.67" y1="253.4" x2="167.67" y2="255.6" stroke="#8a8a8a" stroke-width="0.8"/>
<line x1="169.90" y1="253.4" x2="169.90" y2="255.6" stroke="#8a8a8a" stroke-width="0.8"/>
<line x1="185.06" y1="253.4" x2="185.06" y2="255.6" stroke="#8a8a8a" stroke-width="0.8"/>
<line x1="192.75" y1="253.4" x2="192.75" y2="255.6" stroke="#8a8a8a" stroke-width="0.8"/>
<line x1="198.21" y1="253.4" x2="198.21" y2="255.6" stroke="#8a8a8a" stroke-width="0.8"/>
<line x1="202.44" y1="253.4" x2="202.44" y2="255.6" stroke="#8a8a8a" stroke-width="0.8"/>
<line x1="205.91" y1="253.4" x2="205.91" y2="255.6" stroke="#8a8a8a" stroke-width="0.8"/>
<line x1="208.83" y1="253.4" x2="208.83" y2="255.6" stroke="#8a8a8a" stroke-width="0.8"/>
<line x1="211.37" y1="253.4" x2="211.37" y2="255.6" stroke="#8a8a8a" stroke-width="0.8"/>
<line x1="213.60" y1="253.4" x2="213.60" y2="255.6" stroke="#8a8a8a" stroke-width="0.8"/>
<line x1="228.76" y1="253.4" x2="228.76" y2="255.6" stroke="#8a8a8a" stroke-width="0.8"/>
<line x1="236.45" y1="253.4" x2="236.45" y2="255.6" stroke="#8a8a8a" stroke-width="0.8"/>
<line x1="241.91" y1="253.4" x2="241.91" y2="255.6" stroke="#8a8a8a" stroke-width="0.8"/>
<line x1="246.14" y1="253.4" x2="246.14" y2="255.6" stroke="#8a8a8a" stroke-width="0.8"/>
<text x="140" y="276.6" font-size="8.3" text-anchor="middle" fill="#262626">MCMC sweeps</text>
<text transform="translate(8.8,204.6) rotate(-90)" font-size="8.3" text-anchor="middle" fill="#262626">Similarity</text>
<rect x="206.0" y="185.0" width="40.599999999999994" height="54.30000000000001" fill="#fff"/>
<clipPath id="ci"><rect x="206.0" y="185.0" width="40.599999999999994" height="54.30000000000001"/></clipPath>
<g clip-path="url(#ci)">
<path d="M208.20,240.54 L208.40,238.19 L208.60,236.21 L208.80,234.08 L209.00,231.79 L209.20,230.47 L209.40,227.84 L209.60,226.58 L209.80,225.21 L210.00,223.82 L210.20,220.69 L210.40,220.97 L210.60,219.84 L210.80,218.80 L211.00,215.11 L211.20,214.99 L211.40,214.28 L211.60,212.86 L211.80,213.29 L212.00,210.30 L212.20,211.06 L212.40,209.36 L212.60,206.44 L212.80,206.13 L213.00,206.04 L213.20,206.07 L213.40,206.48 L213.60,204.85 L213.80,205.53 L214.00,202.66 L214.20,200.83 L214.40,203.21 L214.60,203.70 L214.80,202.58 L215.00,201.65 L215.20,202.80 L215.40,204.05 L215.60,201.75 L215.80,200.88 L216.00,200.52 L216.20,203.10 L216.40,200.87 L216.60,201.31 L216.80,201.72 L217.00,201.39 L217.20,199.22 L217.40,200.94 L217.60,200.68 L217.80,200.19 L218.00,200.59 L218.20,198.90 L218.40,199.27 L218.60,198.71 L218.80,199.89 L219.00,198.38 L219.20,199.34 L219.40,197.76 L219.60,198.64 L219.80,198.32 L220.00,198.49 L220.20,198.66 L220.40,198.27 L220.60,198.16 L220.80,196.24 L221.00,199.34 L221.20,197.54 L221.40,197.86 L221.60,197.21 L221.80,198.97 L222.00,196.99 L222.20,198.33 L222.40,198.94 L222.60,199.34 L222.80,198.81 L223.00,198.17 L223.20,196.29 L223.40,198.71 L223.60,198.54 L223.80,198.13 L224.00,198.04 L224.20,197.25 L224.40,196.61 L224.60,198.16 L224.80,198.31 L225.00,195.96 L225.20,197.88 L225.40,197.19 L225.60,197.81 L225.80,197.18 L226.00,198.01 L226.20,197.92 L226.40,197.77 L226.60,195.51 L226.80,197.70 L227.00,196.93 L227.20,195.75 L227.40,197.58 L227.60,195.51 L227.80,197.76 L228.00,198.55 L228.20,196.36 L228.40,197.77 L228.60,197.31 L228.80,197.50 L229.00,195.51 L229.20,197.45 L229.40,196.98 L229.60,197.58 L229.80,196.84 L230.00,197.92 L230.20,197.10 L230.40,197.49 L230.60,198.16 L230.80,196.97 L231.00,197.76 L231.20,196.98 L231.40,197.24 L231.60,196.18 L231.80,197.44 L232.00,197.86 L232.20,196.53 L232.40,197.37 L232.60,196.97 L232.80,195.42 L233.00,196.83 L233.20,197.74 L233.40,195.92 L233.60,194.61 L233.80,196.53 L234.00,195.66 L234.20,198.13 L234.40,196.18 L234.60,196.18 L234.80,195.53 L235.00,196.37 L235.20,195.53 L235.40,195.16 L235.60,195.96 L235.80,195.19 L236.00,197.24 L236.20,194.76 L236.40,195.80 L236.60,195.16 L236.80,194.44 L237.00,197.40 L237.20,193.66 L237.40,197.11 L237.60,194.26 L237.80,195.70 L238.00,197.79 L238.20,193.45 L238.40,194.15 L238.60,196.75 L238.80,195.60 L239.00,194.86 L239.20,195.33 L239.40,194.38 L239.60,195.42 L239.80,196.73 L240.00,194.86 L240.20,195.34 L240.40,196.36 L240.60,197.10 L240.80,194.54 L241.00,195.39 L241.20,194.51 L241.40,194.41 L241.60,194.62 L241.80,194.36 L242.00,193.26 L242.20,192.98 L242.40,194.19 L242.60,195.01 L242.80,196.04 L243.00,194.31 L243.20,194.64 L243.40,195.42 L243.60,195.48 L243.80,194.62 L244.00,194.65 L244.20,196.52 L244.40,194.33 L244.60,194.16 L244.80,193.02 L245.00,195.02 L245.20,194.31 L245.40,196.42 L245.60,194.20 L245.80,195.31 L246.00,195.40 L246.20,196.09 L246.40,193.17 L246.60,195.97" fill="none" stroke="#8172B3" stroke-width="1.1" stroke-linejoin="round" stroke-linecap="butt" />
<path d="M208.40,240.51 L208.60,238.29 L208.80,236.13 L209.00,234.07 L209.20,232.09 L209.40,229.70 L209.60,228.62 L209.80,226.79 L210.00,224.80 L210.20,223.65 L210.40,223.40 L210.60,221.15 L210.80,219.46 L211.00,219.56 L211.20,216.77 L211.40,216.07 L211.60,214.64 L211.80,213.78 L212.00,213.49 L212.20,212.26 L212.40,209.91 L212.60,209.48 L212.80,208.79 L213.00,207.55 L213.20,207.32 L213.40,206.12 L213.60,205.63 L213.80,205.95 L214.00,204.49 L214.20,205.54 L214.40,204.59 L214.60,203.56 L214.80,203.56 L215.00,203.41 L215.20,203.44 L215.40,203.44 L215.60,202.86 L215.80,201.96 L216.00,203.96 L216.20,203.21 L216.40,202.21 L216.60,202.81 L216.80,202.00 L217.00,201.24 L217.20,201.39 L217.40,203.73 L217.60,201.96 L217.80,201.87 L218.00,200.35 L218.20,201.20 L218.40,202.70 L218.60,200.82 L218.80,201.35 L219.00,201.43 L219.20,200.74 L219.40,201.56 L219.60,200.17 L219.80,200.35 L220.00,199.18 L220.20,202.28 L220.40,199.94 L220.60,199.69 L220.80,200.86 L221.00,198.98 L221.20,199.40 L221.40,198.59 L221.60,199.32 L221.80,198.87 L222.00,199.73 L222.20,199.04 L222.40,198.55 L222.60,198.81 L222.80,198.94 L223.00,198.53 L223.20,199.91 L223.40,199.62 L223.60,199.08 L223.80,197.77 L224.00,199.39 L224.20,197.63 L224.40,199.02 L224.60,198.86 L224.80,198.22 L225.00,197.96 L225.20,198.06 L225.40,200.69 L225.60,198.41 L225.80,198.43 L226.00,199.52 L226.20,198.96 L226.40,199.54 L226.60,197.29 L226.80,197.38 L227.00,201.60 L227.20,198.30 L227.40,198.02 L227.60,198.41 L227.80,199.16 L228.00,197.01 L228.20,198.38 L228.40,198.03 L228.60,198.66 L228.80,198.13 L229.00,197.40 L229.20,197.03 L229.40,195.47 L229.60,198.72 L229.80,196.31 L230.00,197.29 L230.20,199.24 L230.40,197.19 L230.60,198.14 L230.80,197.30 L231.00,198.13 L231.20,197.45 L231.40,196.89 L231.60,198.63 L231.80,197.04 L232.00,195.96 L232.20,196.89 L232.40,197.69 L232.60,196.05 L232.80,197.84 L233.00,197.78 L233.20,199.04 L233.40,196.34 L233.60,197.55 L233.80,195.27 L234.00,196.43 L234.20,196.89 L234.40,197.13 L234.60,196.64 L234.80,196.57 L235.00,196.02 L235.20,196.13 L235.40,196.81 L235.60,197.00 L235.80,197.03 L236.00,197.32 L236.20,197.46 L236.40,194.54 L236.60,195.71 L236.80,196.01 L237.00,195.49 L237.20,197.07 L237.40,196.73 L237.60,195.86 L237.80,196.02 L238.00,197.07 L238.20,195.48 L238.40,195.46 L238.60,196.58 L238.80,196.12 L239.00,196.99 L239.20,195.94 L239.40,196.26 L239.60,194.98 L239.80,194.56 L240.00,195.42 L240.20,192.85 L240.40,195.75 L240.60,196.25 L240.80,195.36 L241.00,195.04 L241.20,196.26 L241.40,195.15 L241.60,196.09 L241.80,197.22 L242.00,195.79 L242.20,195.96 L242.40,195.50 L242.60,195.24 L242.80,195.23 L243.00,195.01 L243.20,195.95 L243.40,193.34 L243.60,194.60 L243.80,195.46 L244.00,194.00 L244.20,194.68 L244.40,194.09 L244.60,195.15 L244.80,195.53 L245.00,196.07 L245.20,195.14 L245.40,193.95 L245.60,194.86 L245.80,195.14 L246.00,195.93 L246.20,192.51 L246.40,194.90 L246.60,192.78" fill="none" stroke="#C44E52" stroke-width="1.1" stroke-linejoin="round" stroke-linecap="butt" />
<path d="M208.40,240.61 L208.60,238.78 L208.80,237.04 L209.00,235.40 L209.20,233.71 L209.40,231.89 L209.60,230.61 L209.80,229.44 L210.00,227.59 L210.20,226.31 L210.40,224.44 L210.60,224.43 L210.80,222.35 L211.00,221.02 L211.20,220.07 L211.40,218.68 L211.60,218.08 L211.80,218.35 L212.00,217.10 L212.20,216.89 L212.40,216.28 L212.60,213.35 L212.80,214.05 L213.00,214.43 L213.20,214.64 L213.40,210.56 L213.60,210.05 L213.80,211.39 L214.00,210.17 L214.20,209.12 L214.40,210.04 L214.60,208.55 L214.80,206.78 L215.00,208.60 L215.20,208.43 L215.40,208.62 L215.60,208.62 L215.80,207.61 L216.00,206.93 L216.20,206.26 L216.40,205.07 L216.60,205.98 L216.80,207.11 L217.00,206.56 L217.20,207.69 L217.40,205.38 L217.60,203.64 L217.80,205.96 L218.00,206.00 L218.20,203.74 L218.40,203.18 L218.60,204.74 L218.80,205.16 L219.00,203.30 L219.20,203.93 L219.40,203.41 L219.60,202.93 L219.80,202.71 L220.00,204.01 L220.20,203.43 L220.40,203.06 L220.60,201.13 L220.80,205.22 L221.00,202.57 L221.20,203.27 L221.40,202.24 L221.60,203.61 L221.80,201.74 L222.00,203.20 L222.20,202.86 L222.40,203.84 L222.60,201.84 L222.80,202.19 L223.00,202.51 L223.20,204.66 L223.40,201.17 L223.60,202.77 L223.80,201.78 L224.00,202.62 L224.20,202.86 L224.40,202.29 L224.60,202.32 L224.80,202.26 L225.00,201.35 L225.20,201.62 L225.40,200.16 L225.60,201.32 L225.80,200.84 L226.00,201.25 L226.20,202.11 L226.40,201.69 L226.60,201.69 L226.80,202.22 L227.00,198.81 L227.20,201.41 L227.40,200.90 L227.60,200.75 L227.80,199.52 L228.00,201.22 L228.20,201.71 L228.40,201.52 L228.60,200.38 L228.80,201.00 L229.00,201.20 L229.20,201.99 L229.40,201.35 L229.60,200.25 L229.80,200.14 L230.00,200.14 L230.20,200.13 L230.40,199.38 L230.60,200.53 L230.80,199.08 L231.00,198.91 L231.20,199.96 L231.40,199.02 L231.60,199.28 L231.80,197.48 L232.00,200.17 L232.20,199.35 L232.40,199.18 L232.60,199.70 L232.80,199.40 L233.00,198.48 L233.20,201.01 L233.40,198.61 L233.60,199.91 L233.80,200.68 L234.00,198.28 L234.20,198.90 L234.40,197.97 L234.60,199.69 L234.80,198.30 L235.00,197.51 L235.20,199.74 L235.40,199.29 L235.60,197.49 L235.80,199.39 L236.00,198.37 L236.20,200.69 L236.40,199.66 L236.60,197.41 L236.80,197.60 L237.00,196.93 L237.20,197.81 L237.40,197.64 L237.60,198.21 L237.80,197.51 L238.00,195.93 L238.20,196.48 L238.40,198.52 L238.60,198.18 L238.80,196.84 L239.00,196.79 L239.20,196.67 L239.40,196.78 L239.60,195.07 L239.80,197.45 L240.00,195.90 L240.20,196.59 L240.40,193.96 L240.60,196.52 L240.80,197.49 L241.00,194.00 L241.20,197.51 L241.40,196.43 L241.60,195.20 L241.80,194.31 L242.00,196.85 L242.20,195.92 L242.40,196.16 L242.60,195.26 L242.80,194.69 L243.00,196.21 L243.20,194.40 L243.40,196.11 L243.60,193.59 L243.80,194.24 L244.00,193.68 L244.20,196.27 L244.40,193.29 L244.60,193.83 L244.80,195.51 L245.00,195.06 L245.20,196.90 L245.40,196.53 L245.60,195.32 L245.80,195.36 L246.00,192.93 L246.20,193.80 L246.40,194.31 L246.60,194.43" fill="none" stroke="#55A868" stroke-width="1.1" stroke-linejoin="round" stroke-linecap="butt" />
<path d="M209.50,240.26 L209.70,239.25 L209.90,238.20 L210.10,237.50 L210.30,236.41 L210.50,235.25 L210.70,234.31 L210.90,233.62 L211.10,232.33 L211.30,231.69 L211.50,230.05 L211.70,230.72 L211.90,230.26 L212.10,229.21 L212.30,228.69 L212.50,228.01 L212.70,228.99 L212.90,226.75 L213.10,224.63 L213.30,224.32 L213.50,225.75 L213.70,225.62 L213.90,224.75 L214.10,224.30 L214.30,223.01 L214.50,220.55 L214.70,220.92 L214.90,219.14 L215.10,220.26 L215.30,218.65 L215.50,219.84 L215.70,219.08 L215.90,216.59 L216.10,219.26 L216.30,218.90 L216.50,216.07 L216.70,217.50 L216.90,217.84 L217.10,216.37 L217.30,217.39 L217.50,216.34 L217.70,217.07 L217.90,215.78 L218.10,215.12 L218.30,215.64 L218.50,215.71 L218.70,214.85 L218.90,213.82 L219.10,213.20 L219.30,213.46 L219.50,213.01 L219.70,213.70 L219.90,213.46 L220.10,212.97 L220.30,212.87 L220.50,212.88 L220.70,214.30 L220.90,213.70 L221.10,211.47 L221.30,212.46 L221.50,211.43 L221.70,211.53 L221.90,211.21 L222.10,210.62 L222.30,209.62 L222.50,208.20 L222.70,211.14 L222.90,212.13 L223.10,209.58 L223.30,211.08 L223.50,209.91 L223.70,210.54 L223.90,209.15 L224.10,209.68 L224.30,209.68 L224.50,206.92 L224.70,209.78 L224.90,209.23 L225.10,206.37 L225.30,209.84 L225.50,208.90 L225.70,209.03 L225.90,209.05 L226.10,208.00 L226.30,207.09 L226.50,207.66 L226.70,207.53 L226.90,210.45 L227.10,209.86 L227.30,207.00 L227.50,206.94 L227.70,207.64 L227.90,207.76 L228.10,206.15 L228.30,205.63 L228.50,208.88 L228.70,207.71 L228.90,204.52 L229.10,204.11 L229.30,205.04 L229.50,206.09 L229.70,206.31 L229.90,205.11 L230.10,203.46 L230.30,205.43 L230.50,205.70 L230.70,204.82 L230.90,204.07 L231.10,205.13 L231.30,204.21 L231.50,202.78 L231.70,204.01 L231.90,202.20 L232.10,204.63 L232.30,203.86 L232.50,201.96 L232.70,203.18 L232.90,204.19 L233.10,200.04 L233.30,202.19 L233.50,204.09 L233.70,200.17 L233.90,201.60 L234.10,199.96 L234.30,201.37 L234.50,198.47 L234.70,199.21 L234.90,200.32 L235.10,200.95 L235.30,201.08 L235.50,200.98 L235.70,201.67 L235.90,200.99 L236.10,200.88 L236.30,198.72 L236.50,199.54 L236.70,203.30 L236.90,202.09 L237.10,200.26 L237.30,200.01 L237.50,200.16 L237.70,198.39 L237.90,201.03 L238.10,198.15 L238.30,198.37 L238.50,200.89 L238.70,195.76 L238.90,198.51 L239.10,195.94 L239.30,197.08 L239.50,197.62 L239.70,197.20 L239.90,197.71 L240.10,196.50 L240.30,197.17 L240.50,195.79 L240.70,196.62 L240.90,195.34 L241.10,197.64 L241.30,195.24 L241.50,197.48 L241.70,196.07 L241.90,196.11 L242.10,197.76 L242.30,196.40 L242.50,193.94 L242.70,196.68 L242.90,192.57 L243.10,196.24 L243.30,195.36 L243.50,194.10 L243.70,195.78 L243.90,195.25 L244.10,197.92 L244.30,194.96 L244.50,197.72 L244.70,197.00 L244.90,194.59 L245.10,194.29 L245.30,196.78 L245.50,195.00 L245.70,195.31 L245.90,194.78 L246.10,193.61 L246.30,194.57 L246.50,193.84" fill="none" stroke="#DD8452" stroke-width="1.1" stroke-linejoin="round" stroke-linecap="butt" />
<path d="M235.00,240.19 L235.25,237.09 L235.50,234.33 L235.75,231.32 L236.00,228.24 L236.25,225.79 L236.50,223.63 L236.75,221.70 L237.00,219.54 L237.25,217.59 L237.50,216.02 L237.75,214.96 L238.00,214.10 L238.25,212.40 L238.50,211.14 L238.75,210.82 L239.00,209.83 L239.25,209.11 L239.50,208.63 L239.75,207.73 L240.00,206.84 L240.25,206.12 L240.50,205.94 L240.75,205.19 L241.00,204.98 L241.25,204.19 L241.50,203.92 L241.75,203.27 L242.00,203.08 L242.25,202.68 L242.50,202.52 L242.75,202.32 L243.00,201.67 L243.25,201.22 L243.50,201.47 L243.75,200.86 L244.00,200.63 L244.25,200.36 L244.50,200.28 L244.75,199.95 L245.00,199.65 L245.25,199.45 L245.50,198.91 L245.75,198.76 L246.00,198.67 L246.25,198.54 L246.50,198.36" fill="none" stroke="#4C72B0" stroke-width="1.3" stroke-linejoin="round" stroke-linecap="butt" />
</g>
<rect x="206.0" y="185.0" width="40.599999999999994" height="54.30000000000001" fill="none" stroke="#8a8a8a" stroke-width="1"/>
<line x1="201.8" y1="203.4" x2="206.0" y2="203.4" stroke="#8a8a8a" stroke-width="1"/>
<text x="198.40" y="206.60" font-size="7.8" text-anchor="end" fill="#262626" >0.94</text>
<line x1="201.8" y1="221.35" x2="206.0" y2="221.35" stroke="#8a8a8a" stroke-width="1"/>
<text x="198.40" y="224.55" font-size="7.8" text-anchor="end" fill="#262626" >0.92</text>
<line x1="201.8" y1="239.3" x2="206.0" y2="239.3" stroke="#8a8a8a" stroke-width="1"/>
<text x="198.40" y="242.50" font-size="7.8" text-anchor="end" fill="#262626" >0.90</text>
<line x1="205.90" y1="239.3" x2="205.90" y2="242.8" stroke="#8a8a8a" stroke-width="1"/>
<text x="205.20" y="251.3" font-size="7.8" text-anchor="middle" fill="#262626">10<tspan font-size="5.7" dy="-2.7">2</tspan></text>
<line x1="221.65" y1="239.3" x2="221.65" y2="242.8" stroke="#8a8a8a" stroke-width="1"/>
<text x="220.95" y="251.3" font-size="7.8" text-anchor="middle" fill="#262626">10<tspan font-size="5.7" dy="-2.7">3</tspan></text>
<line x1="237.40" y1="239.3" x2="237.40" y2="242.8" stroke="#8a8a8a" stroke-width="1"/>
<text x="236.70" y="251.3" font-size="7.8" text-anchor="middle" fill="#262626">10<tspan font-size="5.7" dy="-2.7">4</tspan></text>
<line x1="210.64" y1="239.3" x2="210.64" y2="241.3" stroke="#8a8a8a" stroke-width="0.8"/>
<line x1="213.41" y1="239.3" x2="213.41" y2="241.3" stroke="#8a8a8a" stroke-width="0.8"/>
<line x1="215.38" y1="239.3" x2="215.38" y2="241.3" stroke="#8a8a8a" stroke-width="0.8"/>
<line x1="216.91" y1="239.3" x2="216.91" y2="241.3" stroke="#8a8a8a" stroke-width="0.8"/>
<line x1="218.16" y1="239.3" x2="218.16" y2="241.3" stroke="#8a8a8a" stroke-width="0.8"/>
<line x1="219.21" y1="239.3" x2="219.21" y2="241.3" stroke="#8a8a8a" stroke-width="0.8"/>
<line x1="220.12" y1="239.3" x2="220.12" y2="241.3" stroke="#8a8a8a" stroke-width="0.8"/>
<line x1="220.93" y1="239.3" x2="220.93" y2="241.3" stroke="#8a8a8a" stroke-width="0.8"/>
<line x1="226.39" y1="239.3" x2="226.39" y2="241.3" stroke="#8a8a8a" stroke-width="0.8"/>
<line x1="229.16" y1="239.3" x2="229.16" y2="241.3" stroke="#8a8a8a" stroke-width="0.8"/>
<line x1="231.13" y1="239.3" x2="231.13" y2="241.3" stroke="#8a8a8a" stroke-width="0.8"/>
<line x1="232.66" y1="239.3" x2="232.66" y2="241.3" stroke="#8a8a8a" stroke-width="0.8"/>
<line x1="233.91" y1="239.3" x2="233.91" y2="241.3" stroke="#8a8a8a" stroke-width="0.8"/>
<line x1="234.96" y1="239.3" x2="234.96" y2="241.3" stroke="#8a8a8a" stroke-width="0.8"/>
<line x1="235.87" y1="239.3" x2="235.87" y2="241.3" stroke="#8a8a8a" stroke-width="0.8"/>
<line x1="236.68" y1="239.3" x2="236.68" y2="241.3" stroke="#8a8a8a" stroke-width="0.8"/>
<line x1="242.14" y1="239.3" x2="242.14" y2="241.3" stroke="#8a8a8a" stroke-width="0.8"/>
<line x1="244.91" y1="239.3" x2="244.91" y2="241.3" stroke="#8a8a8a" stroke-width="0.8"/>
<text x="269.6" y="154.3" class="pl">(d)</text>
<clipPath id="cd"><rect x="305.0" y="155.8" width="214.20000000000005" height="98.19999999999999"/></clipPath>
<g clip-path="url(#cd)">
<path d="M314.50,160.10 L316.21,220.55 L317.92,239.09 L319.63,239.78 L321.34,240.93 L323.05,241.20 L324.76,240.71 L326.48,240.64 L328.19,239.18 L329.90,243.51 L331.61,238.16 L333.32,239.90 L335.03,238.00 L336.74,240.16 L338.45,240.74 L340.16,241.59 L341.87,239.56 L343.58,239.12 L345.29,240.95 L347.01,238.59 L348.72,241.19 L350.43,243.51 L352.14,241.50 L353.85,242.23 L355.56,246.41 L357.27,246.42 L358.98,245.41 L360.69,246.18 L362.40,247.93 L364.11,244.86 L365.82,241.04 L367.53,241.17 L369.25,243.00 L370.96,242.63 L372.67,239.41 L374.38,240.37 L376.09,238.54 L377.80,237.18 L379.51,239.84 L381.22,242.24 L382.93,238.89 L384.64,239.43 L386.35,236.42 L388.06,240.12 L389.78,243.49 L391.49,243.51 L393.20,246.00 L394.91,243.37 L396.62,240.98 L398.33,242.59 L400.04,238.75 L401.75,239.02 L403.46,237.73 L405.17,238.56 L406.88,236.86 L408.59,241.75 L410.30,239.26 L412.02,238.15 L413.73,243.19 L415.44,241.33 L417.15,241.71 L418.86,240.00 L420.57,241.16 L422.28,241.33 L423.99,239.78 L425.70,242.24 L427.41,239.85 L429.12,241.77 L430.83,238.91 L432.55,241.81 L434.26,239.21 L435.97,238.28 L437.68,240.00 L439.39,238.39 L441.10,237.15 L442.81,235.23 L444.52,241.03 L446.23,237.50 L447.94,238.36 L449.65,240.46 L451.36,242.19 L453.07,240.10 L454.79,240.91 L456.50,241.68 L458.21,237.31 L459.92,241.97 L461.63,243.55 L463.34,244.34 L465.05,241.69 L466.76,238.08 L468.47,234.71 L470.18,240.36 L471.89,242.09 L473.60,239.80 L475.32,236.96 L477.03,236.96 L478.74,241.16 L480.45,239.23 L482.16,240.64 L483.87,241.75 L485.58,242.12 L487.29,239.51 L489.00,239.36 L490.71,240.98 L492.42,240.54 L494.13,244.13 L495.84,243.70 L497.56,239.72 L499.27,242.44 L500.98,243.63 L502.69,240.45 L504.40,239.45 L506.11,236.18 L507.82,238.36 L509.53,240.34" fill="none" stroke="#8172B3" stroke-width="1.1" stroke-linejoin="round" stroke-linecap="butt" />
<path d="M314.50,160.10 L316.21,220.55 L317.92,239.09 L319.63,236.18 L321.34,239.01 L323.05,242.93 L324.76,241.86 L326.48,240.33 L328.19,243.59 L329.90,240.76 L331.61,238.94 L333.32,240.50 L335.03,243.11 L336.74,242.37 L338.45,243.79 L340.16,244.54 L341.87,239.32 L343.58,236.34 L345.29,238.24 L347.01,238.26 L348.72,236.93 L350.43,238.19 L352.14,235.81 L353.85,239.20 L355.56,237.68 L357.27,234.25 L358.98,235.38 L360.69,238.56 L362.40,238.25 L364.11,235.84 L365.82,236.94 L367.53,240.36 L369.25,237.32 L370.96,239.72 L372.67,239.94 L374.38,239.43 L376.09,242.72 L377.80,239.88 L379.51,239.78 L381.22,242.25 L382.93,240.16 L384.64,240.95 L386.35,246.34 L388.06,245.46 L389.78,242.77 L391.49,239.21 L393.20,242.12 L394.91,239.96 L396.62,239.87 L398.33,240.06 L400.04,238.34 L401.75,238.43 L403.46,237.61 L405.17,238.13 L406.88,241.30 L408.59,242.52 L410.30,239.23 L412.02,238.28 L413.73,240.30 L415.44,240.26 L417.15,241.13 L418.86,240.51 L420.57,241.33 L422.28,240.87 L423.99,244.67 L425.70,238.73 L427.41,240.55 L429.12,243.53 L430.83,243.01 L432.55,243.28 L434.26,242.20 L435.97,244.13 L437.68,240.99 L439.39,233.30 L441.10,240.31 L442.81,239.04 L444.52,241.51 L446.23,239.94 L447.94,245.27 L449.65,246.40 L451.36,242.41 L453.07,241.93 L454.79,239.15 L456.50,239.91 L458.21,238.46 L459.92,235.21 L461.63,236.90 L463.34,241.84 L465.05,241.52 L466.76,241.20 L468.47,240.23 L470.18,238.39 L471.89,241.20 L473.60,241.38 L475.32,235.18 L477.03,235.69 L478.74,243.34 L480.45,241.67 L482.16,245.04 L483.87,241.46 L485.58,241.21 L487.29,235.99 L489.00,235.25 L490.71,236.50 L492.42,238.15 L494.13,238.54 L495.84,239.17 L497.56,237.01 L499.27,236.30 L500.98,237.99 L502.69,236.88 L504.40,238.27 L506.11,238.86 L507.82,243.13 L509.53,242.50" fill="none" stroke="#C44E52" stroke-width="1.1" stroke-linejoin="round" stroke-linecap="butt" />
<path d="M314.50,160.10 L316.21,220.55 L317.92,239.09 L319.63,237.44 L321.34,240.47 L323.05,244.45 L324.76,241.56 L326.48,239.55 L328.19,240.00 L329.90,237.91 L331.61,238.83 L333.32,241.80 L335.03,241.23 L336.74,236.98 L338.45,239.43 L340.16,238.88 L341.87,239.56 L343.58,244.65 L345.29,241.27 L347.01,237.08 L348.72,242.84 L350.43,238.85 L352.14,240.82 L353.85,245.65 L355.56,243.25 L357.27,243.33 L358.98,243.37 L360.69,243.82 L362.40,240.26 L364.11,243.37 L365.82,239.53 L367.53,240.51 L369.25,243.01 L370.96,237.61 L372.67,239.17 L374.38,240.81 L376.09,242.22 L377.80,239.61 L379.51,238.29 L381.22,238.90 L382.93,238.78 L384.64,241.71 L386.35,245.09 L388.06,245.74 L389.78,241.28 L391.49,241.69 L393.20,242.36 L394.91,241.02 L396.62,238.80 L398.33,240.12 L400.04,236.14 L401.75,240.21 L403.46,240.26 L405.17,239.49 L406.88,238.99 L408.59,239.66 L410.30,242.16 L412.02,238.60 L413.73,240.63 L415.44,240.89 L417.15,244.44 L418.86,241.21 L420.57,238.63 L422.28,236.55 L423.99,236.69 L425.70,242.19 L427.41,243.01 L429.12,242.80 L430.83,242.36 L432.55,240.72 L434.26,239.83 L435.97,239.20 L437.68,241.11 L439.39,243.43 L441.10,244.45 L442.81,244.40 L444.52,239.81 L446.23,240.28 L447.94,238.40 L449.65,237.72 L451.36,243.76 L453.07,244.44 L454.79,240.68 L456.50,243.99 L458.21,244.98 L459.92,239.51 L461.63,239.35 L463.34,235.87 L465.05,237.09 L466.76,240.32 L468.47,238.63 L470.18,239.06 L471.89,240.26 L473.60,236.31 L475.32,240.25 L477.03,240.54 L478.74,240.94 L480.45,239.93 L482.16,239.69 L483.87,239.13 L485.58,240.18 L487.29,243.20 L489.00,244.27 L490.71,241.75 L492.42,244.70 L494.13,244.06 L495.84,246.44 L497.56,246.92 L499.27,243.16 L500.98,243.75 L502.69,242.97 L504.40,238.97 L506.11,239.54 L507.82,237.77 L509.53,238.23" fill="none" stroke="#55A868" stroke-width="1.1" stroke-linejoin="round" stroke-linecap="butt" />
<path d="M314.50,160.10 L316.21,212.49 L317.92,239.09 L319.63,239.77 L321.34,240.20 L323.05,238.49 L324.76,236.82 L326.48,238.89 L328.19,239.51 L329.90,235.58 L331.61,235.70 L333.32,238.53 L335.03,233.90 L336.74,237.91 L338.45,243.21 L340.16,239.78 L341.87,240.15 L343.58,242.13 L345.29,241.22 L347.01,240.49 L348.72,242.27 L350.43,242.72 L352.14,243.85 L353.85,239.72 L355.56,241.57 L357.27,243.09 L358.98,238.26 L360.69,239.80 L362.40,236.18 L364.11,235.05 L365.82,237.56 L367.53,241.76 L369.25,238.50 L370.96,238.95 L372.67,236.81 L374.38,237.14 L376.09,236.82 L377.80,235.14 L379.51,238.96 L381.22,235.67 L382.93,237.86 L384.64,240.10 L386.35,241.14 L388.06,237.86 L389.78,235.36 L391.49,242.16 L393.20,242.66 L394.91,241.47 L396.62,242.87 L398.33,243.10 L400.04,244.83 L401.75,242.04 L403.46,242.25 L405.17,244.14 L406.88,243.16 L408.59,243.45 L410.30,239.81 L412.02,239.28 L413.73,241.58 L415.44,243.35 L417.15,243.40 L418.86,239.25 L420.57,240.63 L422.28,239.41 L423.99,240.97 L425.70,241.18 L427.41,240.84 L429.12,242.97 L430.83,240.09 L432.55,241.53 L434.26,242.34 L435.97,238.39 L437.68,238.75 L439.39,239.31 L441.10,240.56 L442.81,245.72 L444.52,242.57 L446.23,240.20 L447.94,241.58 L449.65,239.30 L451.36,242.53 L453.07,242.99 L454.79,239.80 L456.50,240.37 L458.21,239.02 L459.92,240.33 L461.63,244.17 L463.34,248.10 L465.05,247.11 L466.76,246.92 L468.47,246.43 L470.18,242.33 L471.89,245.23 L473.60,245.14 L475.32,237.85 L477.03,240.90 L478.74,243.67 L480.45,237.98 L482.16,237.62 L483.87,241.79 L485.58,244.24 L487.29,246.18 L489.00,240.47 L490.71,241.55 L492.42,242.66 L494.13,241.80 L495.84,239.75 L497.56,241.60 L499.27,243.53 L500.98,244.22 L502.69,239.76 L504.40,235.07 L506.11,236.08 L507.82,237.78 L509.53,238.04" fill="none" stroke="#DD8452" stroke-width="1.1" stroke-linejoin="round" stroke-linecap="butt" />
<line x1="305.0" y1="240.7" x2="519.2" y2="240.7" stroke="#000" stroke-width="1.2" stroke-dasharray="2.8,1.6"/>
<path d="M314.50,160.30 L314.85,162.40 L315.20,164.50 L315.55,166.58 L315.90,168.68 L316.25,170.92 L316.60,173.24 L316.95,175.39 L317.30,177.40 L317.65,179.26 L318.00,181.01 L318.35,182.59 L318.70,183.98 L319.05,185.21 L319.40,186.29 L319.75,187.26 L320.10,188.13 L320.45,188.90 L320.80,189.58 L321.15,190.19 L321.50,190.73 L321.85,191.19 L322.20,191.62 L322.55,192.01 L322.90,192.36 L323.25,192.66 L323.60,192.92 L323.95,193.16 L324.30,193.37 L324.65,193.57 L325.00,193.75 L325.35,193.91 L325.70,194.07 L326.05,194.21 L326.40,194.36 L326.75,194.51 L327.10,194.65 L327.45,194.80 L327.80,194.95 L328.15,195.13 L328.50,195.32 L328.85,195.54 L329.20,195.78 L329.55,196.02 L329.90,196.28 L330.25,196.53 L330.60,196.78 L330.95,197.02 L331.30,197.24 L331.65,197.45 L332.00,197.65 L332.35,197.84 L332.70,198.03 L333.05,198.21 L333.40,198.39 L333.75,198.57 L334.10,198.75 L334.45,198.93 L334.80,199.10 L335.15,199.28 L335.50,199.45 L335.85,199.62 L336.20,199.80 L336.55,199.97 L336.90,200.13 L337.25,200.30 L337.60,200.47 L337.95,200.65 L338.30,200.87 L338.65,201.11 L339.00,201.42 L339.35,201.79 L339.70,202.17 L340.05,202.55 L340.40,202.94 L340.75,203.33 L341.10,203.74 L341.45,204.15 L341.80,204.59 L342.15,205.03 L342.50,205.54 L342.85,206.12 L343.20,206.74 L343.55,207.32 L343.90,207.82 L344.25,208.17 L344.60,208.39 L344.95,208.60 L345.30,208.78 L345.65,208.93 L346.00,209.04 L346.35,209.09 L346.70,209.09 L347.05,209.07 L347.40,209.02 L347.75,208.97 L348.10,208.93 L348.45,208.90 L348.80,208.91 L349.15,208.96 L349.50,209.04 L349.85,209.14 L350.20,209.24 L350.55,209.34 L350.90,209.42 L351.25,209.48 L351.60,209.54 L351.95,209.59 L352.30,209.66 L352.65,209.73 L353.00,209.83 L353.35,210.01 L353.70,210.27 L354.05,210.59 L354.40,210.93 L354.75,211.28 L355.10,211.61 L355.45,211.89 L355.80,212.10 L356.15,212.21 L356.50,212.28 L356.85,212.35 L357.20,212.41 L357.55,212.46 L357.90,212.51 L358.25,212.54 L358.60,212.57 L358.95,212.59 L359.30,212.60 L359.65,212.59 L360.00,212.54 L360.35,212.47 L360.70,212.40 L361.05,212.34 L361.40,212.30 L361.75,212.31 L362.10,212.36 L362.45,212.44 L362.80,212.55 L363.15,212.66 L363.50,212.78 L363.85,212.90 L364.20,213.00 L364.55,213.08 L364.90,213.13 L365.25,213.16 L365.60,213.19 L365.95,213.22 L366.30,213.24 L366.65,213.26 L367.00,213.29 L367.35,213.32 L367.70,213.36 L368.05,213.41 L368.40,213.50 L368.75,213.65 L369.10,213.84 L369.45,214.06 L369.80,214.28 L370.15,214.50 L370.50,214.71 L370.85,214.88 L371.20,215.00 L371.55,215.09 L371.90,215.16 L372.25,215.22 L372.60,215.28 L372.95,215.33 L373.30,215.38 L373.65,215.44 L374.00,215.51 L374.35,215.59 L374.70,215.69 L375.05,215.82 L375.40,215.96 L375.75,216.11 L376.10,216.25 L376.45,216.36 L376.80,216.44 L377.15,216.51 L377.50,216.57 L377.85,216.62 L378.20,216.66 L378.55,216.70 L378.90,216.75 L379.25,216.80 L379.60,216.85 L379.95,216.92 L380.30,217.00 L380.65,217.11 L381.00,217.26 L381.35,217.45 L381.70,217.65 L382.05,217.86 L382.40,218.07 L382.75,218.27 L383.10,218.44 L383.45,218.58 L383.80,218.69 L384.15,218.78 L384.50,218.86 L384.85,218.93 L385.20,219.00 L385.55,219.07 L385.90,219.14 L386.25,219.23 L386.60,219.33 L386.95,219.46 L387.30,219.63 L387.65,219.84 L388.00,220.08 L388.35,220.34 L388.70,220.60 L389.05,220.87 L389.40,221.12 L389.75,221.35 L390.10,221.56 L390.45,221.76 L390.80,221.98 L391.15,222.20 L391.50,222.41 L391.85,222.60 L392.20,222.77 L392.55,222.90 L392.90,222.98 L393.25,223.00 L393.60,223.00 L393.95,222.99 L394.30,222.98 L394.65,222.96 L395.00,222.94 L395.35,222.91 L395.70,222.88 L396.05,222.85 L396.40,222.82 L396.75,222.78 L397.10,222.75 L397.45,222.71 L397.80,222.65 L398.15,222.55 L398.50,222.42 L398.85,222.27 L399.20,222.09 L399.55,221.90 L399.90,221.70 L400.25,221.49 L400.60,221.29 L400.95,221.10 L401.30,220.93 L401.65,220.77 L402.00,220.65 L402.35,220.56 L402.70,220.51 L403.05,220.50 L403.40,220.55 L403.75,220.62 L404.10,220.74 L404.45,220.87 L404.80,221.03 L405.15,221.20 L405.50,221.37 L405.85,221.54 L406.20,221.71 L406.55,221.87 L406.90,222.00 L407.25,222.11 L407.60,222.22 L407.95,222.33 L408.30,222.44 L408.65,222.55 L409.00,222.65 L409.35,222.75 L409.70,222.85 L410.05,222.93 L410.40,223.00 L410.75,223.05 L411.10,223.09 L411.45,223.10 L411.80,223.08 L412.15,223.00 L412.50,222.88 L412.85,222.74 L413.20,222.57 L413.55,222.40 L413.90,222.24 L414.25,222.08 L414.60,221.89 L414.95,221.67 L415.30,221.43 L415.65,221.20 L416.00,220.99 L416.35,220.81 L416.70,220.68 L417.05,220.61 L417.40,220.60 L417.75,220.61 L418.10,220.64 L418.45,220.66 L418.80,220.70 L419.15,220.73 L419.50,220.76 L419.85,220.78 L420.20,220.80 L420.55,220.80 L420.90,220.77 L421.25,220.70 L421.60,220.61 L421.95,220.50 L422.30,220.38 L422.65,220.28 L423.00,220.19 L423.35,220.12 L423.70,220.10 L424.05,220.16 L424.40,220.33 L424.75,220.59 L425.10,220.92 L425.45,221.29 L425.80,221.68 L426.15,222.07 L426.50,222.44 L426.85,222.76 L427.20,223.05 L427.55,223.37 L427.90,223.69 L428.25,224.02 L428.60,224.33 L428.95,224.62 L429.30,224.88 L429.65,225.10 L430.00,225.26 L430.35,225.38 L430.70,225.50 L431.05,225.60 L431.40,225.70 L431.75,225.79 L432.10,225.86 L432.45,225.92 L432.80,225.97 L433.15,225.99 L433.50,226.00 L433.85,225.97 L434.20,225.91 L434.55,225.82 L434.90,225.73 L435.25,225.63 L435.60,225.54 L435.95,225.46 L436.30,225.41 L436.65,225.40 L437.00,225.40 L437.35,225.40 L437.70,225.40 L438.05,225.40 L438.40,225.40 L438.75,225.40 L439.10,225.40 L439.45,225.40 L439.80,225.40 L440.15,225.43 L440.50,225.50 L440.85,225.62 L441.20,225.76 L441.55,225.91 L441.90,226.07 L442.25,226.23 L442.60,226.37 L442.95,226.49 L443.30,226.57 L443.65,226.65 L444.00,226.71 L444.35,226.77 L444.70,226.83 L445.05,226.89 L445.40,226.96 L445.75,227.04 L446.10,227.14 L446.45,227.26 L446.80,227.42 L447.15,227.64 L447.50,227.89 L447.85,228.18 L448.20,228.49 L448.55,228.81 L448.90,229.14 L449.25,229.47 L449.60,229.79 L449.95,230.18 L450.30,230.61 L450.65,231.08 L451.00,231.53 L451.35,231.95 L451.70,232.29 L452.05,232.53 L452.40,232.67 L452.75,232.78 L453.10,232.89 L453.45,232.98 L453.80,233.07 L454.15,233.14 L454.50,233.20 L454.85,233.25 L455.20,233.28 L455.55,233.30 L455.90,233.30 L456.25,233.28 L456.60,233.24 L456.95,233.20 L457.30,233.14 L457.65,233.08 L458.00,233.02 L458.35,232.96 L458.70,232.91 L459.05,232.86 L459.40,232.83 L459.75,232.80 L460.10,232.80 L460.45,232.83 L460.80,232.91 L461.15,233.01 L461.50,233.13 L461.85,233.28 L462.20,233.43 L462.55,233.60 L462.90,233.76 L463.25,233.92 L463.60,234.07 L463.95,234.20 L464.30,234.30 L464.65,234.39 L465.00,234.47 L465.35,234.55 L465.70,234.62 L466.05,234.69 L466.40,234.76 L466.75,234.82 L467.10,234.89 L467.45,234.95 L467.80,235.02 L468.15,235.08 L468.50,235.15 L468.85,235.22 L469.20,235.30 L469.55,235.38 L469.90,235.46 L470.25,235.54 L470.60,235.63 L470.95,235.72 L471.30,235.81 L471.65,235.90 L472.00,235.98 L472.35,236.07 L472.70,236.16 L473.05,236.24 L473.40,236.32 L473.75,236.40 L474.10,236.48 L474.45,236.55 L474.80,236.63 L475.15,236.72 L475.50,236.80 L475.85,236.89 L476.20,236.97 L476.55,237.05 L476.90,237.13 L477.25,237.20 L477.60,237.26 L477.95,237.32 L478.30,237.36 L478.65,237.39 L479.00,237.40 L479.35,237.40 L479.70,237.39 L480.05,237.37 L480.40,237.34 L480.75,237.31 L481.10,237.28 L481.45,237.24 L481.80,237.21 L482.15,237.17 L482.50,237.13 L482.85,237.09 L483.20,237.06 L483.55,237.03 L483.90,237.01 L484.25,236.99 L484.60,236.97 L484.95,236.96 L485.30,236.95 L485.65,236.94 L486.00,236.93 L486.35,236.92 L486.70,236.91 L487.05,236.90 L487.40,236.89 L487.75,236.87 L488.10,236.85 L488.45,236.83 L488.80,236.81 L489.15,236.75 L489.50,236.60 L489.85,236.36 L490.20,236.08 L490.55,235.75 L490.90,235.42 L491.25,235.10 L491.60,234.82 L491.95,234.59 L492.30,234.44 L492.65,234.40 L493.00,234.40 L493.35,234.41 L493.70,234.42 L494.05,234.44 L494.40,234.46 L494.75,234.48 L495.10,234.51 L495.45,234.53 L495.80,234.56 L496.15,234.59 L496.50,234.62 L496.85,234.65 L497.20,234.70 L497.55,234.75 L497.90,234.81 L498.25,234.87 L498.60,234.93 L498.95,234.99 L499.30,235.06 L499.65,235.11 L500.00,235.17 L500.35,235.22 L500.70,235.26 L501.05,235.29 L501.40,235.31 L501.75,235.33 L502.10,235.36 L502.45,235.38 L502.80,235.39 L503.15,235.41 L503.50,235.43 L503.85,235.45 L504.20,235.46 L504.55,235.47 L504.90,235.48 L505.25,235.49 L505.60,235.50 L505.95,235.50 L506.30,235.50 L506.65,235.48 L507.00,235.44 L507.35,235.38 L507.70,235.30 L508.05,235.20 L508.40,235.10 L508.75,234.98 L509.10,234.86 L509.45,234.73 L509.80,234.60" fill="none" stroke="#4C72B0" stroke-width="1.15" stroke-linejoin="round" stroke-linecap="butt" />
</g>
<rect x="305.0" y="155.8" width="214.20" height="98.20" fill="none" stroke="#8a8a8a" stroke-width="1.1"/>
<line x1="301.0" y1="160.10" x2="305.0" y2="160.10" stroke="#8a8a8a" stroke-width="1"/>
<text x="297.90" y="163.10" font-size="7.8" text-anchor="end" fill="#262626" >1.00</text>
<line x1="301.0" y1="180.25" x2="305.0" y2="180.25" stroke="#8a8a8a" stroke-width="1"/>
<text x="297.90" y="183.25" font-size="7.8" text-anchor="end" fill="#262626" >0.75</text>
<line x1="301.0" y1="200.40" x2="305.0" y2="200.40" stroke="#8a8a8a" stroke-width="1"/>
<text x="297.90" y="203.40" font-size="7.8" text-anchor="end" fill="#262626" >0.50</text>
<line x1="301.0" y1="220.55" x2="305.0" y2="220.55" stroke="#8a8a8a" stroke-width="1"/>
<text x="297.90" y="223.55" font-size="7.8" text-anchor="end" fill="#262626" >0.25</text>
<line x1="301.0" y1="240.70" x2="305.0" y2="240.70" stroke="#8a8a8a" stroke-width="1"/>
<text x="297.90" y="243.70" font-size="7.8" text-anchor="end" fill="#262626" >0.00</text>
<line x1="314.50" y1="254.0" x2="314.50" y2="258.0" stroke="#8a8a8a" stroke-width="1"/>
<text x="314.50" y="266.60" font-size="7.8" text-anchor="middle" fill="#262626" >0</text>
<line x1="338.94" y1="254.0" x2="338.94" y2="258.0" stroke="#8a8a8a" stroke-width="1"/>
<text x="338.94" y="266.60" font-size="7.8" text-anchor="middle" fill="#262626" >2000</text>
<line x1="363.38" y1="254.0" x2="363.38" y2="258.0" stroke="#8a8a8a" stroke-width="1"/>
<text x="363.38" y="266.60" font-size="7.8" text-anchor="middle" fill="#262626" >4000</text>
<line x1="387.82" y1="254.0" x2="387.82" y2="258.0" stroke="#8a8a8a" stroke-width="1"/>
<text x="387.82" y="266.60" font-size="7.8" text-anchor="middle" fill="#262626" >6000</text>
<line x1="412.26" y1="254.0" x2="412.26" y2="258.0" stroke="#8a8a8a" stroke-width="1"/>
<text x="412.26" y="266.60" font-size="7.8" text-anchor="middle" fill="#262626" >8000</text>
<line x1="436.70" y1="254.0" x2="436.70" y2="258.0" stroke="#8a8a8a" stroke-width="1"/>
<text x="436.70" y="266.60" font-size="7.8" text-anchor="middle" fill="#262626" >10000</text>
<line x1="461.14" y1="254.0" x2="461.14" y2="258.0" stroke="#8a8a8a" stroke-width="1"/>
<text x="461.14" y="266.60" font-size="7.8" text-anchor="middle" fill="#262626" >12000</text>
<line x1="485.58" y1="254.0" x2="485.58" y2="258.0" stroke="#8a8a8a" stroke-width="1"/>
<text x="485.58" y="266.60" font-size="7.8" text-anchor="middle" fill="#262626" >14000</text>
<line x1="510.02" y1="254.0" x2="510.02" y2="258.0" stroke="#8a8a8a" stroke-width="1"/>
<text x="510.02" y="266.60" font-size="7.8" text-anchor="middle" fill="#262626" >16000</text>
<text x="412.2" y="276.7" font-size="8.3" text-anchor="middle" fill="#262626">MCMC sweeps</text>
<text transform="translate(278.6,204.0) rotate(-90)" font-size="8.35" text-anchor="middle" fill="#262626">Autocorrelation</text>
<rect x="431.2" y="160.8" width="86.00000000000006" height="46.29999999999998" rx="1.6" fill="#777" opacity="0.65"/>
<rect x="430.2" y="159.8" width="86.00000000000006" height="46.29999999999998" rx="1.6" fill="#fff" stroke="#1a1a1a" stroke-width="1.0"/>
<line x1="433.3" y1="165.60" x2="449.0" y2="165.60" stroke="#4C72B0" stroke-width="1.1"/>
<text x="454.60" y="168.40" font-size="8.3" font-style="italic" fill="#262626">w</text>
<text x="460.40" y="169.50" font-size="5.4" font-style="italic" fill="#262626">t</text>
<path d="M466.30,164.80H472.10M466.30,167.20H472.10" stroke="#222" stroke-width="0.65" fill="none"/>
<text x="474.00" y="168.40" font-size="8.3" fill="#262626">0</text>
<line x1="433.3" y1="174.02" x2="449.0" y2="174.02" stroke="#DD8452" stroke-width="1.1"/>
<text x="454.60" y="176.82" font-size="8.3" font-style="italic" fill="#262626">w</text>
<text x="460.40" y="177.92" font-size="5.4" font-style="italic" fill="#262626">t</text>
<path d="M466.30,173.22H472.10M466.30,175.62H472.10" stroke="#222" stroke-width="0.65" fill="none"/>
<text x="474.00" y="176.82" font-size="8.3" fill="#262626">1,</text>
<text x="481.80" y="176.82" font-size="9.4" font-style="italic" fill="#262626">τ</text>
<path d="M489.10,173.22H495.20M489.10,175.62H495.20" stroke="#222" stroke-width="0.65" fill="none"/>
<text x="496.80" y="176.82" font-size="8.3" fill="#262626">0</text>
<line x1="433.3" y1="182.44" x2="449.0" y2="182.44" stroke="#55A868" stroke-width="1.1"/>
<text x="454.60" y="185.24" font-size="8.3" font-style="italic" fill="#262626">w</text>
<text x="460.40" y="186.34" font-size="5.4" font-style="italic" fill="#262626">t</text>
<path d="M466.30,181.64H472.10M466.30,184.04H472.10" stroke="#222" stroke-width="0.65" fill="none"/>
<text x="474.00" y="185.24" font-size="8.3" fill="#262626">1,</text>
<text x="481.80" y="185.24" font-size="9.4" font-style="italic" fill="#262626">τ</text>
<path d="M489.10,181.64H495.20M489.10,184.04H495.20" stroke="#222" stroke-width="0.65" fill="none"/>
<text x="496.80" y="185.24" font-size="8.3" fill="#262626">10</text>
<line x1="433.3" y1="190.86" x2="449.0" y2="190.86" stroke="#C44E52" stroke-width="1.1"/>
<text x="454.60" y="193.66" font-size="8.3" font-style="italic" fill="#262626">w</text>
<text x="460.40" y="194.76" font-size="5.4" font-style="italic" fill="#262626">t</text>
<path d="M466.30,190.06H472.10M466.30,192.46H472.10" stroke="#222" stroke-width="0.65" fill="none"/>
<text x="474.00" y="193.66" font-size="8.3" fill="#262626">1,</text>
<text x="481.80" y="193.66" font-size="9.4" font-style="italic" fill="#262626">τ</text>
<path d="M489.10,190.06H495.20M489.10,192.46H495.20" stroke="#222" stroke-width="0.65" fill="none"/>
<text x="496.80" y="193.66" font-size="8.3" fill="#262626">100</text>
<line x1="433.3" y1="199.28" x2="449.0" y2="199.28" stroke="#8172B3" stroke-width="1.1"/>
<text x="454.60" y="202.08" font-size="8.3" font-style="italic" fill="#262626">w</text>
<text x="460.40" y="203.18" font-size="5.4" font-style="italic" fill="#262626">t</text>
<path d="M466.30,198.48H472.10M466.30,200.88H472.10" stroke="#222" stroke-width="0.65" fill="none"/>
<text x="474.00" y="202.08" font-size="8.3" fill="#262626">1,</text>
<text x="481.80" y="202.08" font-size="9.4" font-style="italic" fill="#262626">τ</text>
<path d="M489.10,198.48H495.20M489.10,200.88H495.20" stroke="#222" stroke-width="0.65" fill="none"/>
<text x="496.80" y="202.08" font-size="8.3" fill="#262626">1000</text>
</g>
</svg>
</body></html>
